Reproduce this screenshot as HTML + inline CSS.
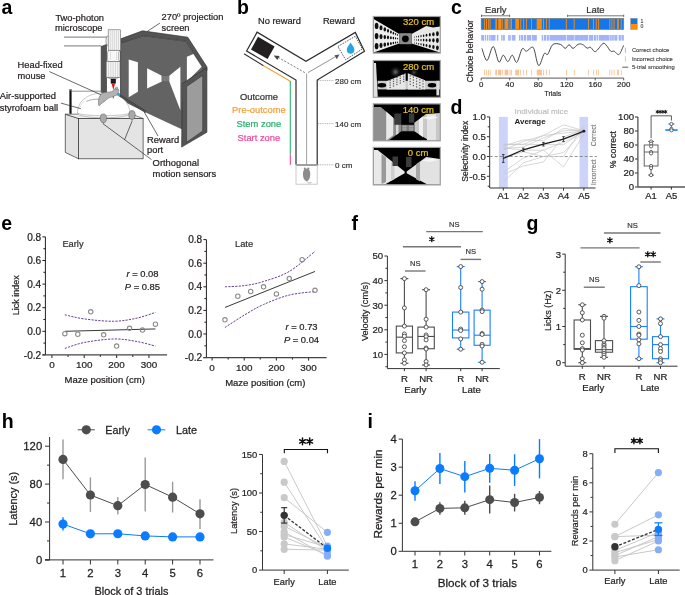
<!DOCTYPE html>
<html><head><meta charset="utf-8"><style>
html,body{margin:0;padding:0;background:#fff;}
body{width:685px;height:595px;overflow:hidden;}
svg{display:block;font-family:"Liberation Sans",sans-serif;transform:translateZ(0);will-change:transform;}
</style></head><body>
<svg width="685" height="595" viewBox="0 0 685 595">
<rect x="0" y="0" width="685" height="595" fill="#fff"/>
<text x="1.50" y="13.80" font-size="19.5" text-anchor="start" fill="#000" font-weight="bold"  >a</text>
<text x="237.00" y="13.80" font-size="19.5" text-anchor="start" fill="#000" font-weight="bold"  >b</text>
<text x="451.00" y="13.50" font-size="19.5" text-anchor="start" fill="#000" font-weight="bold"  >c</text>
<text x="450.50" y="113.50" font-size="19.5" text-anchor="start" fill="#000" font-weight="bold"  >d</text>
<text x="1.20" y="230.30" font-size="19.5" text-anchor="start" fill="#000" font-weight="bold"  >e</text>
<text x="351.50" y="230.00" font-size="19.5" text-anchor="start" fill="#000" font-weight="bold"  >f</text>
<text x="526.50" y="230.20" font-size="19.5" text-anchor="start" fill="#000" font-weight="bold"  >g</text>
<text x="1.70" y="428.00" font-size="19.5" text-anchor="start" fill="#000" font-weight="bold"  >h</text>
<text x="367.50" y="428.00" font-size="19.5" text-anchor="start" fill="#000" font-weight="bold"  >i</text>
<line x1="45.40" y1="236.90" x2="45.40" y2="354.90" stroke="#231f20" stroke-width="1" />
<line x1="42.40" y1="236.90" x2="45.40" y2="236.90" stroke="#231f20" stroke-width="1" />
<text x="41.20" y="240.54" font-size="10.1" text-anchor="end" fill="#231f20" font-weight="normal" stroke="#231f20" stroke-width="0.236" >0.8</text>
<line x1="42.40" y1="260.50" x2="45.40" y2="260.50" stroke="#231f20" stroke-width="1" />
<text x="41.20" y="264.14" font-size="10.1" text-anchor="end" fill="#231f20" font-weight="normal" stroke="#231f20" stroke-width="0.236" >0.6</text>
<line x1="42.40" y1="284.10" x2="45.40" y2="284.10" stroke="#231f20" stroke-width="1" />
<text x="41.20" y="287.74" font-size="10.1" text-anchor="end" fill="#231f20" font-weight="normal" stroke="#231f20" stroke-width="0.236" >0.4</text>
<line x1="42.40" y1="307.70" x2="45.40" y2="307.70" stroke="#231f20" stroke-width="1" />
<text x="41.20" y="311.34" font-size="10.1" text-anchor="end" fill="#231f20" font-weight="normal" stroke="#231f20" stroke-width="0.236" >0.2</text>
<line x1="42.40" y1="331.30" x2="45.40" y2="331.30" stroke="#231f20" stroke-width="1" />
<text x="41.20" y="334.94" font-size="10.1" text-anchor="end" fill="#231f20" font-weight="normal" stroke="#231f20" stroke-width="0.236" >0.0</text>
<line x1="42.40" y1="354.90" x2="45.40" y2="354.90" stroke="#231f20" stroke-width="1" />
<text x="41.20" y="358.54" font-size="10.1" text-anchor="end" fill="#231f20" font-weight="normal" stroke="#231f20" stroke-width="0.236" >-0.2</text>
<line x1="43.40" y1="248.70" x2="45.40" y2="248.70" stroke="#231f20" stroke-width="1" />
<line x1="43.40" y1="272.30" x2="45.40" y2="272.30" stroke="#231f20" stroke-width="1" />
<line x1="43.40" y1="295.90" x2="45.40" y2="295.90" stroke="#231f20" stroke-width="1" />
<line x1="43.40" y1="319.50" x2="45.40" y2="319.50" stroke="#231f20" stroke-width="1" />
<line x1="43.40" y1="343.10" x2="45.40" y2="343.10" stroke="#231f20" stroke-width="1" />
<line x1="42.40" y1="354.90" x2="167.12" y2="354.90" stroke="#444" stroke-width="1.2" />
<line x1="51.90" y1="354.90" x2="51.90" y2="357.90" stroke="#444" stroke-width="1.2" />
<text x="51.90" y="368.33" font-size="9.9" text-anchor="middle" fill="#231f20" font-weight="normal" stroke="#231f20" stroke-width="0.232" >0</text>
<line x1="84.25" y1="354.90" x2="84.25" y2="357.90" stroke="#444" stroke-width="1.2" />
<text x="84.25" y="368.33" font-size="9.9" text-anchor="middle" fill="#231f20" font-weight="normal" stroke="#231f20" stroke-width="0.232" >100</text>
<line x1="116.60" y1="354.90" x2="116.60" y2="357.90" stroke="#444" stroke-width="1.2" />
<text x="116.60" y="368.33" font-size="9.9" text-anchor="middle" fill="#231f20" font-weight="normal" stroke="#231f20" stroke-width="0.232" >200</text>
<line x1="148.95" y1="354.90" x2="148.95" y2="357.90" stroke="#444" stroke-width="1.2" />
<text x="148.95" y="368.33" font-size="9.9" text-anchor="middle" fill="#231f20" font-weight="normal" stroke="#231f20" stroke-width="0.232" >300</text>
<line x1="68.08" y1="354.90" x2="68.08" y2="356.90" stroke="#444" stroke-width="1.2" />
<line x1="100.42" y1="354.90" x2="100.42" y2="356.90" stroke="#444" stroke-width="1.2" />
<line x1="132.78" y1="354.90" x2="132.78" y2="356.90" stroke="#444" stroke-width="1.2" />
<path d="M64.84,314.78 C68.08,315.47 76.16,317.83 84.25,318.91 C92.34,319.99 104.74,321.37 113.37,321.27 C121.99,321.17 129.00,319.80 136.01,318.32 C143.02,316.85 152.19,313.40 155.42,312.42" fill="none" stroke="#673d9c" stroke-width="1.0" stroke-dasharray="2.2,1.2"/>
<path d="M64.84,348.41 C68.08,347.43 76.16,344.08 84.25,342.51 C92.34,340.94 104.74,339.17 113.37,338.97 C121.99,338.77 129.00,340.15 136.01,341.33 C143.02,342.51 152.19,345.26 155.42,346.05" fill="none" stroke="#673d9c" stroke-width="1.0" stroke-dasharray="2.2,1.2"/>
<line x1="64.84" y1="331.30" x2="155.42" y2="328.94" stroke="#222" stroke-width="0.9" />
<circle cx="64.84" cy="333.66" r="2.2" fill="none" stroke="#8c8c8c" stroke-width="1.1" />
<circle cx="77.78" cy="334.25" r="2.2" fill="none" stroke="#8c8c8c" stroke-width="1.1" />
<circle cx="90.72" cy="311.83" r="2.2" fill="none" stroke="#8c8c8c" stroke-width="1.1" />
<circle cx="103.66" cy="334.84" r="2.2" fill="none" stroke="#8c8c8c" stroke-width="1.1" />
<circle cx="116.60" cy="346.05" r="2.2" fill="none" stroke="#8c8c8c" stroke-width="1.1" />
<circle cx="129.54" cy="328.35" r="2.2" fill="none" stroke="#8c8c8c" stroke-width="1.1" />
<circle cx="142.48" cy="330.12" r="2.2" fill="none" stroke="#8c8c8c" stroke-width="1.1" />
<circle cx="155.42" cy="324.22" r="2.2" fill="none" stroke="#8c8c8c" stroke-width="1.1" />
<text x="62.40" y="247.40" font-size="9.3" text-anchor="start" fill="#333" font-weight="normal" stroke="#333" stroke-width="0.218" >Early</text>
<text x="158.50" y="276.80" font-size="9.4" text-anchor="end" fill="#231f20" font-weight="normal" stroke="#231f20" stroke-width="0.220" ><tspan font-style="italic">r</tspan> = 0.08</text>
<text x="160.00" y="289.60" font-size="9.4" text-anchor="end" fill="#231f20" font-weight="normal" stroke="#231f20" stroke-width="0.220" ><tspan font-style="italic">P</tspan> = 0.85</text>
<text x="104.70" y="383.20" font-size="9.5" text-anchor="middle" fill="#231f20" font-weight="normal" stroke="#231f20" stroke-width="0.222" >Maze position (cm)</text>
<text transform="translate(19.00,295.20) rotate(-90)" font-size="9.0" text-anchor="middle" fill="#231f20" font-weight="normal" stroke="#231f20" stroke-width="0.211">Lick index</text>
<line x1="206.40" y1="239.60" x2="206.40" y2="357.60" stroke="#231f20" stroke-width="1" />
<line x1="203.40" y1="239.60" x2="206.40" y2="239.60" stroke="#231f20" stroke-width="1" />
<text x="202.20" y="243.24" font-size="10.1" text-anchor="end" fill="#231f20" font-weight="normal" stroke="#231f20" stroke-width="0.236" >0.8</text>
<line x1="203.40" y1="263.20" x2="206.40" y2="263.20" stroke="#231f20" stroke-width="1" />
<text x="202.20" y="266.84" font-size="10.1" text-anchor="end" fill="#231f20" font-weight="normal" stroke="#231f20" stroke-width="0.236" >0.6</text>
<line x1="203.40" y1="286.80" x2="206.40" y2="286.80" stroke="#231f20" stroke-width="1" />
<text x="202.20" y="290.44" font-size="10.1" text-anchor="end" fill="#231f20" font-weight="normal" stroke="#231f20" stroke-width="0.236" >0.4</text>
<line x1="203.40" y1="310.40" x2="206.40" y2="310.40" stroke="#231f20" stroke-width="1" />
<text x="202.20" y="314.04" font-size="10.1" text-anchor="end" fill="#231f20" font-weight="normal" stroke="#231f20" stroke-width="0.236" >0.2</text>
<line x1="203.40" y1="334.00" x2="206.40" y2="334.00" stroke="#231f20" stroke-width="1" />
<text x="202.20" y="337.64" font-size="10.1" text-anchor="end" fill="#231f20" font-weight="normal" stroke="#231f20" stroke-width="0.236" >0.0</text>
<line x1="203.40" y1="357.60" x2="206.40" y2="357.60" stroke="#231f20" stroke-width="1" />
<text x="202.20" y="361.24" font-size="10.1" text-anchor="end" fill="#231f20" font-weight="normal" stroke="#231f20" stroke-width="0.236" >-0.2</text>
<line x1="204.40" y1="251.40" x2="206.40" y2="251.40" stroke="#231f20" stroke-width="1" />
<line x1="204.40" y1="275.00" x2="206.40" y2="275.00" stroke="#231f20" stroke-width="1" />
<line x1="204.40" y1="298.60" x2="206.40" y2="298.60" stroke="#231f20" stroke-width="1" />
<line x1="204.40" y1="322.20" x2="206.40" y2="322.20" stroke="#231f20" stroke-width="1" />
<line x1="204.40" y1="345.80" x2="206.40" y2="345.80" stroke="#231f20" stroke-width="1" />
<line x1="203.40" y1="357.60" x2="326.62" y2="357.60" stroke="#444" stroke-width="1.2" />
<line x1="212.10" y1="357.60" x2="212.10" y2="360.60" stroke="#444" stroke-width="1.2" />
<text x="212.10" y="371.03" font-size="9.9" text-anchor="middle" fill="#231f20" font-weight="normal" stroke="#231f20" stroke-width="0.232" >0</text>
<line x1="244.25" y1="357.60" x2="244.25" y2="360.60" stroke="#444" stroke-width="1.2" />
<text x="244.25" y="371.03" font-size="9.9" text-anchor="middle" fill="#231f20" font-weight="normal" stroke="#231f20" stroke-width="0.232" >100</text>
<line x1="276.40" y1="357.60" x2="276.40" y2="360.60" stroke="#444" stroke-width="1.2" />
<text x="276.40" y="371.03" font-size="9.9" text-anchor="middle" fill="#231f20" font-weight="normal" stroke="#231f20" stroke-width="0.232" >200</text>
<line x1="308.55" y1="357.60" x2="308.55" y2="360.60" stroke="#444" stroke-width="1.2" />
<text x="308.55" y="371.03" font-size="9.9" text-anchor="middle" fill="#231f20" font-weight="normal" stroke="#231f20" stroke-width="0.232" >300</text>
<line x1="228.17" y1="357.60" x2="228.17" y2="359.60" stroke="#444" stroke-width="1.2" />
<line x1="260.32" y1="357.60" x2="260.32" y2="359.60" stroke="#444" stroke-width="1.2" />
<line x1="292.48" y1="357.60" x2="292.48" y2="359.60" stroke="#444" stroke-width="1.2" />
<path d="M224.96,286.80 C228.17,286.60 237.82,286.50 244.25,285.62 C250.68,284.73 256.04,283.85 263.54,281.49 C271.04,279.13 280.69,276.47 289.26,271.46 C297.83,266.44 310.69,254.74 314.98,251.40" fill="none" stroke="#673d9c" stroke-width="1.0" stroke-dasharray="2.2,1.2"/>
<path d="M224.96,327.51 C228.17,325.44 237.82,318.95 244.25,315.12 C250.68,311.29 256.04,307.84 263.54,304.50 C271.04,301.16 280.69,297.22 289.26,295.06 C297.83,292.90 310.69,292.11 314.98,291.52" fill="none" stroke="#673d9c" stroke-width="1.0" stroke-dasharray="2.2,1.2"/>
<line x1="224.96" y1="307.45" x2="314.98" y2="271.46" stroke="#222" stroke-width="0.9" />
<circle cx="224.96" cy="319.84" r="2.2" fill="none" stroke="#8c8c8c" stroke-width="1.1" />
<circle cx="237.82" cy="296.24" r="2.2" fill="none" stroke="#8c8c8c" stroke-width="1.1" />
<circle cx="250.68" cy="291.52" r="2.2" fill="none" stroke="#8c8c8c" stroke-width="1.1" />
<circle cx="263.54" cy="286.80" r="2.2" fill="none" stroke="#8c8c8c" stroke-width="1.1" />
<circle cx="276.40" cy="293.88" r="2.2" fill="none" stroke="#8c8c8c" stroke-width="1.1" />
<circle cx="289.26" cy="278.54" r="2.2" fill="none" stroke="#8c8c8c" stroke-width="1.1" />
<circle cx="302.12" cy="259.66" r="2.2" fill="none" stroke="#8c8c8c" stroke-width="1.1" />
<circle cx="314.98" cy="290.34" r="2.2" fill="none" stroke="#8c8c8c" stroke-width="1.1" />
<text x="235.00" y="246.80" font-size="9.3" text-anchor="start" fill="#333" font-weight="normal" stroke="#333" stroke-width="0.218" >Late</text>
<text x="317.60" y="330.30" font-size="9.4" text-anchor="end" fill="#231f20" font-weight="normal" stroke="#231f20" stroke-width="0.220" ><tspan font-style="italic">r</tspan> = 0.73</text>
<text x="319.10" y="343.10" font-size="9.4" text-anchor="end" fill="#231f20" font-weight="normal" stroke="#231f20" stroke-width="0.220" ><tspan font-style="italic">P</tspan> = 0.04</text>
<text x="265.30" y="385.60" font-size="9.5" text-anchor="middle" fill="#231f20" font-weight="normal" stroke="#231f20" stroke-width="0.222" >Maze position (cm)</text>
<line x1="387.40" y1="256.00" x2="387.40" y2="368.60" stroke="#333" stroke-width="1" />
<line x1="384.40" y1="256.00" x2="387.40" y2="256.00" stroke="#333" stroke-width="1" />
<text x="383.20" y="259.46" font-size="9.6" text-anchor="end" fill="#231f20" font-weight="normal" stroke="#231f20" stroke-width="0.225" >50</text>
<line x1="384.40" y1="280.60" x2="387.40" y2="280.60" stroke="#333" stroke-width="1" />
<text x="383.20" y="284.06" font-size="9.6" text-anchor="end" fill="#231f20" font-weight="normal" stroke="#231f20" stroke-width="0.225" >40</text>
<line x1="384.40" y1="305.20" x2="387.40" y2="305.20" stroke="#333" stroke-width="1" />
<text x="383.20" y="308.66" font-size="9.6" text-anchor="end" fill="#231f20" font-weight="normal" stroke="#231f20" stroke-width="0.225" >30</text>
<line x1="384.40" y1="329.80" x2="387.40" y2="329.80" stroke="#333" stroke-width="1" />
<text x="383.20" y="333.26" font-size="9.6" text-anchor="end" fill="#231f20" font-weight="normal" stroke="#231f20" stroke-width="0.225" >20</text>
<line x1="384.40" y1="354.40" x2="387.40" y2="354.40" stroke="#333" stroke-width="1" />
<text x="383.20" y="357.86" font-size="9.6" text-anchor="end" fill="#231f20" font-weight="normal" stroke="#231f20" stroke-width="0.225" >10</text>
<line x1="385.40" y1="268.30" x2="387.40" y2="268.30" stroke="#333" stroke-width="1" />
<line x1="385.40" y1="292.90" x2="387.40" y2="292.90" stroke="#333" stroke-width="1" />
<line x1="385.40" y1="317.50" x2="387.40" y2="317.50" stroke="#333" stroke-width="1" />
<line x1="385.40" y1="342.10" x2="387.40" y2="342.10" stroke="#333" stroke-width="1" />
<line x1="385.40" y1="366.70" x2="387.40" y2="366.70" stroke="#333" stroke-width="1" />
<line x1="387.40" y1="368.60" x2="499.80" y2="368.60" stroke="#333" stroke-width="1" />
<line x1="404.40" y1="368.60" x2="404.40" y2="371.20" stroke="#333" stroke-width="1" />
<text x="404.40" y="381.60" font-size="9.6" text-anchor="middle" fill="#231f20" font-weight="normal" stroke="#231f20" stroke-width="0.225" >R</text>
<line x1="426.10" y1="368.60" x2="426.10" y2="371.20" stroke="#333" stroke-width="1" />
<text x="426.10" y="381.60" font-size="9.6" text-anchor="middle" fill="#231f20" font-weight="normal" stroke="#231f20" stroke-width="0.225" >NR</text>
<line x1="460.70" y1="368.60" x2="460.70" y2="371.20" stroke="#333" stroke-width="1" />
<text x="460.70" y="381.60" font-size="9.6" text-anchor="middle" fill="#231f20" font-weight="normal" stroke="#231f20" stroke-width="0.225" >R</text>
<line x1="482.10" y1="368.60" x2="482.10" y2="371.20" stroke="#333" stroke-width="1" />
<text x="482.10" y="381.60" font-size="9.6" text-anchor="middle" fill="#231f20" font-weight="normal" stroke="#231f20" stroke-width="0.225" >NR</text>
<text x="415.30" y="392.60" font-size="9.6" text-anchor="middle" fill="#231f20" font-weight="normal" stroke="#231f20" stroke-width="0.225" >Early</text>
<text x="471.40" y="392.60" font-size="9.6" text-anchor="middle" fill="#231f20" font-weight="normal" stroke="#231f20" stroke-width="0.225" >Late</text>
<text transform="translate(368.20,311.50) rotate(-90)" font-size="9.1" text-anchor="middle" fill="#231f20" font-weight="normal" stroke="#231f20" stroke-width="0.213">Velocity (cm/s)</text>
<line x1="404.40" y1="278.63" x2="404.40" y2="326.11" stroke="#4d4d4d" stroke-width="1.1" />
<line x1="404.40" y1="352.92" x2="404.40" y2="363.26" stroke="#4d4d4d" stroke-width="1.1" />
<line x1="400.40" y1="278.63" x2="408.40" y2="278.63" stroke="#4d4d4d" stroke-width="1.1" />
<line x1="400.40" y1="363.26" x2="408.40" y2="363.26" stroke="#4d4d4d" stroke-width="1.1" />
<rect x="396.30" y="326.11" width="16.20" height="26.81" fill="none" stroke="#4d4d4d" stroke-width="1.1" />
<line x1="396.30" y1="337.18" x2="412.50" y2="337.18" stroke="#4d4d4d" stroke-width="1.1" />
<circle cx="404.40" cy="278.63" r="2.0" fill="#fff" stroke="#333" stroke-width="0.8" />
<circle cx="404.40" cy="307.91" r="2.0" fill="#fff" stroke="#333" stroke-width="0.8" />
<circle cx="404.40" cy="326.11" r="2.0" fill="#fff" stroke="#333" stroke-width="0.8" />
<circle cx="404.40" cy="333.98" r="2.0" fill="#fff" stroke="#333" stroke-width="0.8" />
<circle cx="404.40" cy="336.20" r="2.0" fill="#fff" stroke="#333" stroke-width="0.8" />
<circle cx="404.40" cy="340.62" r="2.0" fill="#fff" stroke="#333" stroke-width="0.8" />
<circle cx="404.40" cy="346.77" r="2.0" fill="#fff" stroke="#333" stroke-width="0.8" />
<circle cx="404.40" cy="352.92" r="2.0" fill="#fff" stroke="#333" stroke-width="0.8" />
<circle cx="404.40" cy="359.81" r="2.0" fill="#fff" stroke="#333" stroke-width="0.8" />
<circle cx="404.40" cy="363.26" r="2.0" fill="#fff" stroke="#333" stroke-width="0.8" />
<line x1="426.10" y1="289.70" x2="426.10" y2="327.09" stroke="#4d4d4d" stroke-width="1.1" />
<line x1="426.10" y1="348.74" x2="426.10" y2="364.98" stroke="#4d4d4d" stroke-width="1.1" />
<line x1="422.10" y1="289.70" x2="430.10" y2="289.70" stroke="#4d4d4d" stroke-width="1.1" />
<line x1="422.10" y1="364.98" x2="430.10" y2="364.98" stroke="#4d4d4d" stroke-width="1.1" />
<rect x="417.90" y="327.09" width="16.40" height="21.65" fill="none" stroke="#4d4d4d" stroke-width="1.1" />
<line x1="417.90" y1="336.44" x2="434.30" y2="336.44" stroke="#4d4d4d" stroke-width="1.1" />
<circle cx="426.10" cy="289.70" r="2.0" fill="#fff" stroke="#333" stroke-width="0.8" />
<circle cx="426.10" cy="319.22" r="2.0" fill="#fff" stroke="#333" stroke-width="0.8" />
<circle cx="426.10" cy="327.09" r="2.0" fill="#fff" stroke="#333" stroke-width="0.8" />
<circle cx="426.10" cy="334.97" r="2.0" fill="#fff" stroke="#333" stroke-width="0.8" />
<circle cx="426.10" cy="336.69" r="2.0" fill="#fff" stroke="#333" stroke-width="0.8" />
<circle cx="426.10" cy="339.89" r="2.0" fill="#fff" stroke="#333" stroke-width="0.8" />
<circle cx="426.10" cy="348.00" r="2.0" fill="#fff" stroke="#333" stroke-width="0.8" />
<circle cx="426.10" cy="348.99" r="2.0" fill="#fff" stroke="#333" stroke-width="0.8" />
<circle cx="426.10" cy="361.53" r="2.0" fill="#fff" stroke="#333" stroke-width="0.8" />
<circle cx="426.10" cy="364.98" r="2.0" fill="#fff" stroke="#333" stroke-width="0.8" />
<line x1="460.70" y1="266.58" x2="460.70" y2="312.09" stroke="#1a7fff" stroke-width="1.1" />
<line x1="460.70" y1="337.92" x2="460.70" y2="349.23" stroke="#1a7fff" stroke-width="1.1" />
<line x1="456.70" y1="266.58" x2="464.70" y2="266.58" stroke="#1a7fff" stroke-width="1.1" />
<line x1="456.70" y1="349.23" x2="464.70" y2="349.23" stroke="#1a7fff" stroke-width="1.1" />
<rect x="452.50" y="312.09" width="16.40" height="25.83" fill="none" stroke="#1a7fff" stroke-width="1.1" />
<line x1="452.50" y1="330.05" x2="468.90" y2="330.05" stroke="#1a7fff" stroke-width="1.1" />
<circle cx="460.70" cy="266.58" r="2.0" fill="#fff" stroke="#333" stroke-width="0.8" />
<circle cx="460.70" cy="287.49" r="2.0" fill="#fff" stroke="#333" stroke-width="0.8" />
<circle cx="460.70" cy="312.09" r="2.0" fill="#fff" stroke="#333" stroke-width="0.8" />
<circle cx="460.70" cy="329.06" r="2.0" fill="#fff" stroke="#333" stroke-width="0.8" />
<circle cx="460.70" cy="330.54" r="2.0" fill="#fff" stroke="#333" stroke-width="0.8" />
<circle cx="460.70" cy="338.90" r="2.0" fill="#fff" stroke="#333" stroke-width="0.8" />
<circle cx="460.70" cy="349.23" r="2.0" fill="#fff" stroke="#333" stroke-width="0.8" />
<line x1="482.10" y1="281.58" x2="482.10" y2="310.12" stroke="#1a7fff" stroke-width="1.1" />
<line x1="482.10" y1="345.30" x2="482.10" y2="362.27" stroke="#1a7fff" stroke-width="1.1" />
<line x1="478.10" y1="281.58" x2="486.10" y2="281.58" stroke="#1a7fff" stroke-width="1.1" />
<line x1="478.10" y1="362.27" x2="486.10" y2="362.27" stroke="#1a7fff" stroke-width="1.1" />
<rect x="474.10" y="310.12" width="16.00" height="35.18" fill="none" stroke="#1a7fff" stroke-width="1.1" />
<line x1="474.10" y1="335.21" x2="490.10" y2="335.21" stroke="#1a7fff" stroke-width="1.1" />
<circle cx="482.10" cy="281.58" r="2.0" fill="#fff" stroke="#333" stroke-width="0.8" />
<circle cx="482.10" cy="289.21" r="2.0" fill="#fff" stroke="#333" stroke-width="0.8" />
<circle cx="482.10" cy="310.12" r="2.0" fill="#fff" stroke="#333" stroke-width="0.8" />
<circle cx="482.10" cy="311.60" r="2.0" fill="#fff" stroke="#333" stroke-width="0.8" />
<circle cx="482.10" cy="333.49" r="2.0" fill="#fff" stroke="#333" stroke-width="0.8" />
<circle cx="482.10" cy="334.47" r="2.0" fill="#fff" stroke="#333" stroke-width="0.8" />
<circle cx="482.10" cy="344.31" r="2.0" fill="#fff" stroke="#333" stroke-width="0.8" />
<circle cx="482.10" cy="346.04" r="2.0" fill="#fff" stroke="#333" stroke-width="0.8" />
<circle cx="482.10" cy="362.27" r="2.0" fill="#fff" stroke="#333" stroke-width="0.8" />
<line x1="426.20" y1="231.60" x2="482.80" y2="231.60" stroke="#777" stroke-width="1.4" />
<text x="454.30" y="226.80" font-size="7.6" text-anchor="middle" fill="#333" font-weight="normal" stroke="#333" stroke-width="0.178" >NS</text>
<line x1="402.90" y1="246.70" x2="461.00" y2="246.70" stroke="#777" stroke-width="1.4" />
<path d="M431.80,236.70L431.80,241.70M433.97,237.95L429.63,240.45M433.97,240.45L429.63,237.95" fill="none" stroke="#111" stroke-width="1.3" stroke-linecap="round"/>
<circle cx="431.80" cy="239.20" r="0.9750000000000001" fill="#111" stroke="none" stroke-width="1" />
<line x1="460.60" y1="259.40" x2="481.10" y2="259.40" stroke="#777" stroke-width="1.4" />
<text x="470.80" y="254.30" font-size="7.6" text-anchor="middle" fill="#333" font-weight="normal" stroke="#333" stroke-width="0.178" >NS</text>
<line x1="405.00" y1="271.00" x2="425.60" y2="271.00" stroke="#777" stroke-width="1.4" />
<text x="415.30" y="265.80" font-size="7.6" text-anchor="middle" fill="#333" font-weight="normal" stroke="#333" stroke-width="0.178" >NS</text>
<line x1="565.20" y1="254.10" x2="565.20" y2="366.20" stroke="#333" stroke-width="1" />
<line x1="562.20" y1="254.10" x2="565.20" y2="254.10" stroke="#333" stroke-width="1" />
<text x="561.00" y="257.56" font-size="9.6" text-anchor="end" fill="#231f20" font-weight="normal" stroke="#231f20" stroke-width="0.225" >3</text>
<line x1="562.20" y1="290.30" x2="565.20" y2="290.30" stroke="#333" stroke-width="1" />
<text x="561.00" y="293.76" font-size="9.6" text-anchor="end" fill="#231f20" font-weight="normal" stroke="#231f20" stroke-width="0.225" >2</text>
<line x1="562.20" y1="326.50" x2="565.20" y2="326.50" stroke="#333" stroke-width="1" />
<text x="561.00" y="329.96" font-size="9.6" text-anchor="end" fill="#231f20" font-weight="normal" stroke="#231f20" stroke-width="0.225" >1</text>
<line x1="562.20" y1="362.70" x2="565.20" y2="362.70" stroke="#333" stroke-width="1" />
<text x="561.00" y="366.16" font-size="9.6" text-anchor="end" fill="#231f20" font-weight="normal" stroke="#231f20" stroke-width="0.225" >0</text>
<line x1="563.20" y1="272.20" x2="565.20" y2="272.20" stroke="#333" stroke-width="1" />
<line x1="563.20" y1="308.40" x2="565.20" y2="308.40" stroke="#333" stroke-width="1" />
<line x1="563.20" y1="344.60" x2="565.20" y2="344.60" stroke="#333" stroke-width="1" />
<line x1="565.20" y1="366.20" x2="677.50" y2="366.20" stroke="#333" stroke-width="1" />
<line x1="582.30" y1="366.20" x2="582.30" y2="368.80" stroke="#333" stroke-width="1" />
<text x="582.30" y="379.60" font-size="9.6" text-anchor="middle" fill="#231f20" font-weight="normal" stroke="#231f20" stroke-width="0.225" >R</text>
<line x1="604.00" y1="366.20" x2="604.00" y2="368.80" stroke="#333" stroke-width="1" />
<text x="604.00" y="379.60" font-size="9.6" text-anchor="middle" fill="#231f20" font-weight="normal" stroke="#231f20" stroke-width="0.225" >NR</text>
<line x1="638.90" y1="366.20" x2="638.90" y2="368.80" stroke="#333" stroke-width="1" />
<text x="638.90" y="379.60" font-size="9.6" text-anchor="middle" fill="#231f20" font-weight="normal" stroke="#231f20" stroke-width="0.225" >R</text>
<line x1="660.50" y1="366.20" x2="660.50" y2="368.80" stroke="#333" stroke-width="1" />
<text x="660.50" y="379.60" font-size="9.6" text-anchor="middle" fill="#231f20" font-weight="normal" stroke="#231f20" stroke-width="0.225" >NR</text>
<text x="593.30" y="391.00" font-size="9.6" text-anchor="middle" fill="#231f20" font-weight="normal" stroke="#231f20" stroke-width="0.225" >Early</text>
<text x="649.90" y="391.00" font-size="9.6" text-anchor="middle" fill="#231f20" font-weight="normal" stroke="#231f20" stroke-width="0.225" >Late</text>
<text transform="translate(550.60,310.80) rotate(-90)" font-size="9.1" text-anchor="middle" fill="#231f20" font-weight="normal" stroke="#231f20" stroke-width="0.213">Licks (Hz)</text>
<line x1="582.30" y1="304.78" x2="582.30" y2="319.98" stroke="#4d4d4d" stroke-width="1.1" />
<line x1="582.30" y1="349.31" x2="582.30" y2="362.70" stroke="#4d4d4d" stroke-width="1.1" />
<line x1="578.30" y1="304.78" x2="586.30" y2="304.78" stroke="#4d4d4d" stroke-width="1.1" />
<line x1="578.30" y1="362.70" x2="586.30" y2="362.70" stroke="#4d4d4d" stroke-width="1.1" />
<rect x="574.10" y="319.98" width="16.40" height="29.32" fill="none" stroke="#4d4d4d" stroke-width="1.1" />
<line x1="574.10" y1="348.58" x2="590.50" y2="348.58" stroke="#4d4d4d" stroke-width="1.1" />
<circle cx="582.30" cy="304.78" r="2.0" fill="#fff" stroke="#333" stroke-width="0.8" />
<circle cx="582.30" cy="312.74" r="2.0" fill="#fff" stroke="#333" stroke-width="0.8" />
<circle cx="582.30" cy="319.98" r="2.0" fill="#fff" stroke="#333" stroke-width="0.8" />
<circle cx="582.30" cy="335.19" r="2.0" fill="#fff" stroke="#333" stroke-width="0.8" />
<circle cx="582.30" cy="342.79" r="2.0" fill="#fff" stroke="#333" stroke-width="0.8" />
<circle cx="582.30" cy="348.58" r="2.0" fill="#fff" stroke="#333" stroke-width="0.8" />
<circle cx="582.30" cy="350.03" r="2.0" fill="#fff" stroke="#333" stroke-width="0.8" />
<circle cx="582.30" cy="358.72" r="2.0" fill="#fff" stroke="#333" stroke-width="0.8" />
<circle cx="582.30" cy="362.70" r="2.0" fill="#fff" stroke="#333" stroke-width="0.8" />
<line x1="604.00" y1="316.36" x2="604.00" y2="340.62" stroke="#4d4d4d" stroke-width="1.1" />
<line x1="604.00" y1="352.20" x2="604.00" y2="357.27" stroke="#4d4d4d" stroke-width="1.1" />
<line x1="600.00" y1="316.36" x2="608.00" y2="316.36" stroke="#4d4d4d" stroke-width="1.1" />
<line x1="600.00" y1="357.27" x2="608.00" y2="357.27" stroke="#4d4d4d" stroke-width="1.1" />
<rect x="595.40" y="340.62" width="17.20" height="11.58" fill="none" stroke="#4d4d4d" stroke-width="1.1" />
<line x1="595.40" y1="349.67" x2="612.60" y2="349.67" stroke="#4d4d4d" stroke-width="1.1" />
<circle cx="604.00" cy="316.36" r="2.0" fill="#fff" stroke="#333" stroke-width="0.8" />
<circle cx="604.00" cy="318.17" r="2.0" fill="#fff" stroke="#333" stroke-width="0.8" />
<circle cx="604.00" cy="340.62" r="2.0" fill="#fff" stroke="#333" stroke-width="0.8" />
<circle cx="604.00" cy="343.88" r="2.0" fill="#fff" stroke="#333" stroke-width="0.8" />
<circle cx="604.00" cy="345.32" r="2.0" fill="#fff" stroke="#333" stroke-width="0.8" />
<circle cx="604.00" cy="347.13" r="2.0" fill="#fff" stroke="#333" stroke-width="0.8" />
<circle cx="604.00" cy="348.58" r="2.0" fill="#fff" stroke="#333" stroke-width="0.8" />
<circle cx="604.00" cy="351.12" r="2.0" fill="#fff" stroke="#333" stroke-width="0.8" />
<circle cx="604.00" cy="353.29" r="2.0" fill="#fff" stroke="#333" stroke-width="0.8" />
<circle cx="604.00" cy="355.10" r="2.0" fill="#fff" stroke="#333" stroke-width="0.8" />
<circle cx="604.00" cy="357.27" r="2.0" fill="#fff" stroke="#333" stroke-width="0.8" />
<line x1="638.90" y1="266.77" x2="638.90" y2="286.68" stroke="#1a7fff" stroke-width="1.1" />
<line x1="638.90" y1="339.17" x2="638.90" y2="358.72" stroke="#1a7fff" stroke-width="1.1" />
<line x1="634.90" y1="266.77" x2="642.90" y2="266.77" stroke="#1a7fff" stroke-width="1.1" />
<line x1="634.90" y1="358.72" x2="642.90" y2="358.72" stroke="#1a7fff" stroke-width="1.1" />
<rect x="630.60" y="286.68" width="16.60" height="52.49" fill="none" stroke="#1a7fff" stroke-width="1.1" />
<line x1="630.60" y1="326.50" x2="647.20" y2="326.50" stroke="#1a7fff" stroke-width="1.1" />
<circle cx="638.90" cy="266.77" r="2.0" fill="#fff" stroke="#333" stroke-width="0.8" />
<circle cx="638.90" cy="285.59" r="2.0" fill="#fff" stroke="#333" stroke-width="0.8" />
<circle cx="638.90" cy="312.02" r="2.0" fill="#fff" stroke="#333" stroke-width="0.8" />
<circle cx="638.90" cy="320.35" r="2.0" fill="#fff" stroke="#333" stroke-width="0.8" />
<circle cx="638.90" cy="326.50" r="2.0" fill="#fff" stroke="#333" stroke-width="0.8" />
<circle cx="638.90" cy="334.10" r="2.0" fill="#fff" stroke="#333" stroke-width="0.8" />
<circle cx="638.90" cy="335.19" r="2.0" fill="#fff" stroke="#333" stroke-width="0.8" />
<circle cx="638.90" cy="339.89" r="2.0" fill="#fff" stroke="#333" stroke-width="0.8" />
<circle cx="638.90" cy="343.88" r="2.0" fill="#fff" stroke="#333" stroke-width="0.8" />
<circle cx="638.90" cy="358.72" r="2.0" fill="#fff" stroke="#333" stroke-width="0.8" />
<line x1="660.50" y1="318.90" x2="660.50" y2="336.64" stroke="#1a7fff" stroke-width="1.1" />
<line x1="660.50" y1="358.72" x2="660.50" y2="362.70" stroke="#1a7fff" stroke-width="1.1" />
<line x1="656.50" y1="318.90" x2="664.50" y2="318.90" stroke="#1a7fff" stroke-width="1.1" />
<line x1="656.50" y1="362.70" x2="664.50" y2="362.70" stroke="#1a7fff" stroke-width="1.1" />
<rect x="652.50" y="336.64" width="16.00" height="22.08" fill="none" stroke="#1a7fff" stroke-width="1.1" />
<line x1="652.50" y1="344.60" x2="668.50" y2="344.60" stroke="#1a7fff" stroke-width="1.1" />
<circle cx="660.50" cy="318.90" r="2.0" fill="#fff" stroke="#333" stroke-width="0.8" />
<circle cx="660.50" cy="323.60" r="2.0" fill="#fff" stroke="#333" stroke-width="0.8" />
<circle cx="660.50" cy="336.64" r="2.0" fill="#fff" stroke="#333" stroke-width="0.8" />
<circle cx="660.50" cy="344.60" r="2.0" fill="#fff" stroke="#333" stroke-width="0.8" />
<circle cx="660.50" cy="348.58" r="2.0" fill="#fff" stroke="#333" stroke-width="0.8" />
<circle cx="660.50" cy="351.48" r="2.0" fill="#fff" stroke="#333" stroke-width="0.8" />
<circle cx="660.50" cy="358.72" r="2.0" fill="#fff" stroke="#333" stroke-width="0.8" />
<circle cx="660.50" cy="360.53" r="2.0" fill="#fff" stroke="#333" stroke-width="0.8" />
<circle cx="660.50" cy="362.70" r="2.0" fill="#fff" stroke="#333" stroke-width="0.8" />
<line x1="603.90" y1="233.00" x2="660.50" y2="233.00" stroke="#777" stroke-width="1.4" />
<text x="632.60" y="227.70" font-size="7.6" text-anchor="middle" fill="#333" font-weight="normal" stroke="#333" stroke-width="0.178" >NS</text>
<line x1="580.50" y1="247.90" x2="639.60" y2="247.90" stroke="#777" stroke-width="1.4" />
<path d="M609.90,237.70L609.90,242.90M612.15,239.00L607.65,241.60M612.15,241.60L607.65,239.00" fill="none" stroke="#111" stroke-width="1.3" stroke-linecap="round"/>
<circle cx="609.90" cy="240.30" r="0.9750000000000001" fill="#111" stroke="none" stroke-width="1" />
<line x1="640.30" y1="262.00" x2="660.80" y2="262.00" stroke="#777" stroke-width="1.4" />
<path d="M647.75,251.75L647.75,256.85M649.96,253.03L645.54,255.58M649.96,255.58L645.54,253.03" fill="none" stroke="#111" stroke-width="1.3" stroke-linecap="round"/>
<circle cx="647.75" cy="254.30" r="0.9750000000000001" fill="#111" stroke="none" stroke-width="1" />
<path d="M653.25,251.75L653.25,256.85M655.46,253.03L651.04,255.58M655.46,255.58L651.04,253.03" fill="none" stroke="#111" stroke-width="1.3" stroke-linecap="round"/>
<circle cx="653.25" cy="254.30" r="0.9750000000000001" fill="#111" stroke="none" stroke-width="1" />
<line x1="583.80" y1="287.20" x2="604.80" y2="287.20" stroke="#777" stroke-width="1.4" />
<text x="594.40" y="282.00" font-size="7.6" text-anchor="middle" fill="#333" font-weight="normal" stroke="#333" stroke-width="0.178" >NS</text>
<line x1="49.60" y1="437.00" x2="49.60" y2="559.90" stroke="#333" stroke-width="1" />
<line x1="45.00" y1="559.90" x2="49.60" y2="559.90" stroke="#333" stroke-width="1" />
<text x="42.20" y="563.97" font-size="11.3" text-anchor="end" fill="#231f20" font-weight="normal" stroke="#231f20" stroke-width="0.264" >0</text>
<line x1="45.00" y1="522.00" x2="49.60" y2="522.00" stroke="#333" stroke-width="1" />
<text x="42.20" y="526.07" font-size="11.3" text-anchor="end" fill="#231f20" font-weight="normal" stroke="#231f20" stroke-width="0.264" >40</text>
<line x1="45.00" y1="484.10" x2="49.60" y2="484.10" stroke="#333" stroke-width="1" />
<text x="42.20" y="488.17" font-size="11.3" text-anchor="end" fill="#231f20" font-weight="normal" stroke="#231f20" stroke-width="0.264" >80</text>
<line x1="45.00" y1="446.20" x2="49.60" y2="446.20" stroke="#333" stroke-width="1" />
<text x="42.20" y="450.27" font-size="11.3" text-anchor="end" fill="#231f20" font-weight="normal" stroke="#231f20" stroke-width="0.264" >120</text>
<line x1="47.00" y1="540.95" x2="49.60" y2="540.95" stroke="#333" stroke-width="1" />
<line x1="47.00" y1="503.05" x2="49.60" y2="503.05" stroke="#333" stroke-width="1" />
<line x1="47.00" y1="465.15" x2="49.60" y2="465.15" stroke="#333" stroke-width="1" />
<line x1="45.00" y1="559.90" x2="213.50" y2="559.90" stroke="#333" stroke-width="1" />
<line x1="63.00" y1="559.90" x2="63.00" y2="564.50" stroke="#333" stroke-width="1" />
<text x="63.00" y="577.44" font-size="11.3" text-anchor="middle" fill="#231f20" font-weight="normal" stroke="#231f20" stroke-width="0.264" >1</text>
<line x1="90.40" y1="559.90" x2="90.40" y2="564.50" stroke="#333" stroke-width="1" />
<text x="90.40" y="577.44" font-size="11.3" text-anchor="middle" fill="#231f20" font-weight="normal" stroke="#231f20" stroke-width="0.264" >2</text>
<line x1="117.80" y1="559.90" x2="117.80" y2="564.50" stroke="#333" stroke-width="1" />
<text x="117.80" y="577.44" font-size="11.3" text-anchor="middle" fill="#231f20" font-weight="normal" stroke="#231f20" stroke-width="0.264" >3</text>
<line x1="145.20" y1="559.90" x2="145.20" y2="564.50" stroke="#333" stroke-width="1" />
<text x="145.20" y="577.44" font-size="11.3" text-anchor="middle" fill="#231f20" font-weight="normal" stroke="#231f20" stroke-width="0.264" >4</text>
<line x1="172.60" y1="559.90" x2="172.60" y2="564.50" stroke="#333" stroke-width="1" />
<text x="172.60" y="577.44" font-size="11.3" text-anchor="middle" fill="#231f20" font-weight="normal" stroke="#231f20" stroke-width="0.264" >5</text>
<line x1="200.00" y1="559.90" x2="200.00" y2="564.50" stroke="#333" stroke-width="1" />
<text x="200.00" y="577.44" font-size="11.3" text-anchor="middle" fill="#231f20" font-weight="normal" stroke="#231f20" stroke-width="0.264" >6</text>
<line x1="45.00" y1="559.90" x2="49.60" y2="559.90" stroke="#333" stroke-width="1" />
<line x1="63.00" y1="439.57" x2="63.00" y2="479.36" stroke="#9a9a9a" stroke-width="1.4" />
<line x1="90.40" y1="477.47" x2="90.40" y2="512.05" stroke="#9a9a9a" stroke-width="1.4" />
<line x1="117.80" y1="496.89" x2="117.80" y2="514.42" stroke="#9a9a9a" stroke-width="1.4" />
<line x1="145.20" y1="457.57" x2="145.20" y2="511.58" stroke="#9a9a9a" stroke-width="1.4" />
<line x1="172.60" y1="481.73" x2="172.60" y2="512.52" stroke="#9a9a9a" stroke-width="1.4" />
<line x1="200.00" y1="499.26" x2="200.00" y2="529.11" stroke="#9a9a9a" stroke-width="1.4" />
<polyline points="63.00,459.46 90.40,495.00 117.80,505.70 145.20,484.48 172.60,497.18 200.00,513.85" fill="none" stroke="#4d4d4d" stroke-width="1.0" />
<circle cx="63.00" cy="459.46" r="4.6" fill="#4d4d4d" stroke="none" stroke-width="1" />
<circle cx="90.40" cy="495.00" r="4.6" fill="#4d4d4d" stroke="none" stroke-width="1" />
<circle cx="117.80" cy="505.70" r="4.6" fill="#4d4d4d" stroke="none" stroke-width="1" />
<circle cx="145.20" cy="484.48" r="4.6" fill="#4d4d4d" stroke="none" stroke-width="1" />
<circle cx="172.60" cy="497.18" r="4.6" fill="#4d4d4d" stroke="none" stroke-width="1" />
<circle cx="200.00" cy="513.85" r="4.6" fill="#4d4d4d" stroke="none" stroke-width="1" />
<line x1="63.00" y1="517.26" x2="63.00" y2="530.53" stroke="#0a7cff" stroke-width="1.4" />
<line x1="90.40" y1="532.42" x2="90.40" y2="535.26" stroke="#0a7cff" stroke-width="1.4" />
<line x1="117.80" y1="532.42" x2="117.80" y2="535.26" stroke="#0a7cff" stroke-width="1.4" />
<line x1="145.20" y1="534.32" x2="145.20" y2="537.16" stroke="#0a7cff" stroke-width="1.4" />
<line x1="172.60" y1="535.26" x2="172.60" y2="538.11" stroke="#0a7cff" stroke-width="1.4" />
<line x1="200.00" y1="535.26" x2="200.00" y2="538.11" stroke="#0a7cff" stroke-width="1.4" />
<polyline points="63.00,524.08 90.40,533.84 117.80,533.75 145.20,535.93 172.60,536.88 200.00,536.88" fill="none" stroke="#0a7cff" stroke-width="1.0" />
<circle cx="63.00" cy="524.08" r="4.6" fill="#0a7cff" stroke="none" stroke-width="1" />
<circle cx="90.40" cy="533.84" r="4.6" fill="#0a7cff" stroke="none" stroke-width="1" />
<circle cx="117.80" cy="533.75" r="4.6" fill="#0a7cff" stroke="none" stroke-width="1" />
<circle cx="145.20" cy="535.93" r="4.6" fill="#0a7cff" stroke="none" stroke-width="1" />
<circle cx="172.60" cy="536.88" r="4.6" fill="#0a7cff" stroke="none" stroke-width="1" />
<circle cx="200.00" cy="536.88" r="4.6" fill="#0a7cff" stroke="none" stroke-width="1" />
<line x1="77.70" y1="429.80" x2="94.80" y2="429.80" stroke="#4d4d4d" stroke-width="1" />
<circle cx="86.30" cy="429.80" r="4.6" fill="#4d4d4d" stroke="none" stroke-width="1" />
<text x="105.30" y="433.90" font-size="10.8" text-anchor="start" fill="#231f20" font-weight="normal" stroke="#231f20" stroke-width="0.253" >Early</text>
<line x1="147.60" y1="429.80" x2="165.30" y2="429.80" stroke="#0a7cff" stroke-width="1" />
<circle cx="156.50" cy="429.80" r="4.6" fill="#0a7cff" stroke="none" stroke-width="1" />
<text x="175.90" y="433.90" font-size="10.8" text-anchor="start" fill="#231f20" font-weight="normal" stroke="#231f20" stroke-width="0.253" >Late</text>
<text x="131.50" y="594.60" font-size="10.9" text-anchor="middle" fill="#231f20" font-weight="normal" stroke="#231f20" stroke-width="0.255" >Block of 3 trials</text>
<text transform="translate(17.40,498.80) rotate(-90)" font-size="10.9" text-anchor="middle" fill="#231f20" font-weight="normal" stroke="#231f20" stroke-width="0.255">Latency (s)</text>
<line x1="262.50" y1="454.45" x2="262.50" y2="570.10" stroke="#333" stroke-width="1" />
<line x1="259.10" y1="570.10" x2="262.50" y2="570.10" stroke="#333" stroke-width="1" />
<text x="257.30" y="573.48" font-size="9.4" text-anchor="end" fill="#231f20" font-weight="normal" stroke="#231f20" stroke-width="0.220" >0</text>
<line x1="259.10" y1="531.55" x2="262.50" y2="531.55" stroke="#333" stroke-width="1" />
<text x="257.30" y="534.93" font-size="9.4" text-anchor="end" fill="#231f20" font-weight="normal" stroke="#231f20" stroke-width="0.220" >50</text>
<line x1="259.10" y1="493.00" x2="262.50" y2="493.00" stroke="#333" stroke-width="1" />
<text x="257.30" y="496.38" font-size="9.4" text-anchor="end" fill="#231f20" font-weight="normal" stroke="#231f20" stroke-width="0.220" >100</text>
<line x1="259.10" y1="454.45" x2="262.50" y2="454.45" stroke="#333" stroke-width="1" />
<text x="257.30" y="457.83" font-size="9.4" text-anchor="end" fill="#231f20" font-weight="normal" stroke="#231f20" stroke-width="0.220" >150</text>
<line x1="260.30" y1="550.83" x2="262.50" y2="550.83" stroke="#333" stroke-width="1" />
<line x1="260.30" y1="512.27" x2="262.50" y2="512.27" stroke="#333" stroke-width="1" />
<line x1="260.30" y1="473.73" x2="262.50" y2="473.73" stroke="#333" stroke-width="1" />
<line x1="262.50" y1="570.10" x2="348.80" y2="570.10" stroke="#333" stroke-width="1" />
<line x1="284.20" y1="570.10" x2="284.20" y2="574.00" stroke="#333" stroke-width="1" />
<text x="284.20" y="585.10" font-size="9.3" text-anchor="middle" fill="#231f20" font-weight="normal" stroke="#231f20" stroke-width="0.218" >Early</text>
<line x1="327.40" y1="570.10" x2="327.40" y2="574.00" stroke="#333" stroke-width="1" />
<text x="327.40" y="585.10" font-size="9.3" text-anchor="middle" fill="#231f20" font-weight="normal" stroke="#231f20" stroke-width="0.218" >Late</text>
<text transform="translate(237.00,511.00) rotate(-90)" font-size="9.3" text-anchor="middle" fill="#231f20" font-weight="normal" stroke="#231f20" stroke-width="0.218">Latency (s)</text>
<line x1="284.20" y1="461.39" x2="327.40" y2="546.20" stroke="#c9c9c9" stroke-width="1.0" />
<line x1="284.20" y1="482.21" x2="327.40" y2="549.28" stroke="#c9c9c9" stroke-width="1.0" />
<line x1="284.20" y1="497.63" x2="327.40" y2="532.32" stroke="#c9c9c9" stroke-width="1.0" />
<line x1="284.20" y1="522.30" x2="327.40" y2="550.83" stroke="#c9c9c9" stroke-width="1.0" />
<line x1="284.20" y1="526.15" x2="327.40" y2="547.74" stroke="#c9c9c9" stroke-width="1.0" />
<line x1="284.20" y1="531.94" x2="327.40" y2="556.22" stroke="#c9c9c9" stroke-width="1.0" />
<line x1="284.20" y1="534.63" x2="327.40" y2="546.97" stroke="#c9c9c9" stroke-width="1.0" />
<line x1="284.20" y1="536.95" x2="327.40" y2="554.68" stroke="#c9c9c9" stroke-width="1.0" />
<line x1="284.20" y1="543.89" x2="327.40" y2="549.28" stroke="#c9c9c9" stroke-width="1.0" />
<line x1="284.20" y1="549.28" x2="327.40" y2="550.05" stroke="#c9c9c9" stroke-width="1.0" />
<circle cx="284.20" cy="461.39" r="3.6" fill="#c9c9c9" stroke="none" stroke-width="1" />
<circle cx="284.20" cy="482.21" r="3.6" fill="#c9c9c9" stroke="none" stroke-width="1" />
<circle cx="284.20" cy="497.63" r="3.6" fill="#c9c9c9" stroke="none" stroke-width="1" />
<circle cx="284.20" cy="522.30" r="3.6" fill="#c9c9c9" stroke="none" stroke-width="1" />
<circle cx="284.20" cy="526.15" r="3.6" fill="#c9c9c9" stroke="none" stroke-width="1" />
<circle cx="284.20" cy="531.94" r="3.6" fill="#c9c9c9" stroke="none" stroke-width="1" />
<circle cx="284.20" cy="534.63" r="3.6" fill="#c9c9c9" stroke="none" stroke-width="1" />
<circle cx="284.20" cy="536.95" r="3.6" fill="#c9c9c9" stroke="none" stroke-width="1" />
<circle cx="284.20" cy="543.89" r="3.6" fill="#c9c9c9" stroke="none" stroke-width="1" />
<circle cx="284.20" cy="549.28" r="3.6" fill="#c9c9c9" stroke="none" stroke-width="1" />
<circle cx="327.40" cy="546.20" r="3.6" fill="#86aef7" stroke="none" stroke-width="1" />
<circle cx="327.40" cy="549.28" r="3.6" fill="#86aef7" stroke="none" stroke-width="1" />
<circle cx="327.40" cy="532.32" r="3.6" fill="#86aef7" stroke="none" stroke-width="1" />
<circle cx="327.40" cy="550.83" r="3.6" fill="#86aef7" stroke="none" stroke-width="1" />
<circle cx="327.40" cy="547.74" r="3.6" fill="#86aef7" stroke="none" stroke-width="1" />
<circle cx="327.40" cy="556.22" r="3.6" fill="#86aef7" stroke="none" stroke-width="1" />
<circle cx="327.40" cy="546.97" r="3.6" fill="#86aef7" stroke="none" stroke-width="1" />
<circle cx="327.40" cy="554.68" r="3.6" fill="#86aef7" stroke="none" stroke-width="1" />
<circle cx="327.40" cy="549.28" r="3.6" fill="#86aef7" stroke="none" stroke-width="1" />
<circle cx="327.40" cy="550.05" r="3.6" fill="#86aef7" stroke="none" stroke-width="1" />
<line x1="284.20" y1="515.36" x2="327.40" y2="548.28" stroke="#333" stroke-width="1.3" stroke-dasharray="3,1.6"/>
<line x1="284.20" y1="507.65" x2="284.20" y2="523.07" stroke="#333" stroke-width="1.2" />
<line x1="281.20" y1="507.65" x2="287.20" y2="507.65" stroke="#333" stroke-width="1.2" />
<line x1="281.20" y1="523.07" x2="287.20" y2="523.07" stroke="#333" stroke-width="1.2" />
<circle cx="284.20" cy="515.36" r="3.7" fill="#333" stroke="none" stroke-width="1" />
<line x1="327.40" y1="545.81" x2="327.40" y2="550.83" stroke="#0a7cff" stroke-width="1.2" />
<circle cx="327.40" cy="548.28" r="3.7" fill="#0a7cff" stroke="none" stroke-width="1" />
<polyline points="284.30,453.30 284.30,449.50 327.50,449.50 327.50,453.30" fill="none" stroke="#111" stroke-width="1.1" />
<path d="M302.50,438.10L302.50,444.70M305.36,439.75L299.64,443.05M305.36,443.05L299.64,439.75" fill="none" stroke="#111" stroke-width="1.5" stroke-linecap="round"/>
<circle cx="302.50" cy="441.40" r="1.125" fill="#111" stroke="none" stroke-width="1" />
<path d="M309.70,438.10L309.70,444.70M312.56,439.75L306.84,443.05M312.56,443.05L306.84,439.75" fill="none" stroke="#111" stroke-width="1.5" stroke-linecap="round"/>
<circle cx="309.70" cy="441.40" r="1.125" fill="#111" stroke="none" stroke-width="1" />
<line x1="402.40" y1="439.10" x2="402.40" y2="551.30" stroke="#333" stroke-width="1" />
<line x1="398.70" y1="551.30" x2="402.40" y2="551.30" stroke="#333" stroke-width="1" />
<text x="396.70" y="555.37" font-size="11.3" text-anchor="end" fill="#231f20" font-weight="normal" stroke="#231f20" stroke-width="0.264" >0</text>
<line x1="398.70" y1="523.25" x2="402.40" y2="523.25" stroke="#333" stroke-width="1" />
<text x="396.70" y="527.32" font-size="11.3" text-anchor="end" fill="#231f20" font-weight="normal" stroke="#231f20" stroke-width="0.264" >1</text>
<line x1="398.70" y1="495.20" x2="402.40" y2="495.20" stroke="#333" stroke-width="1" />
<text x="396.70" y="499.27" font-size="11.3" text-anchor="end" fill="#231f20" font-weight="normal" stroke="#231f20" stroke-width="0.264" >2</text>
<line x1="398.70" y1="467.15" x2="402.40" y2="467.15" stroke="#333" stroke-width="1" />
<text x="396.70" y="471.22" font-size="11.3" text-anchor="end" fill="#231f20" font-weight="normal" stroke="#231f20" stroke-width="0.264" >3</text>
<line x1="398.70" y1="439.10" x2="402.40" y2="439.10" stroke="#333" stroke-width="1" />
<text x="396.70" y="443.17" font-size="11.3" text-anchor="end" fill="#231f20" font-weight="normal" stroke="#231f20" stroke-width="0.264" >4</text>
<line x1="402.40" y1="551.30" x2="551.40" y2="551.30" stroke="#333" stroke-width="1" />
<line x1="415.00" y1="551.30" x2="415.00" y2="555.50" stroke="#333" stroke-width="1" />
<text x="415.00" y="568.24" font-size="11.3" text-anchor="middle" fill="#231f20" font-weight="normal" stroke="#231f20" stroke-width="0.264" >1</text>
<line x1="439.90" y1="551.30" x2="439.90" y2="555.50" stroke="#333" stroke-width="1" />
<text x="439.90" y="568.24" font-size="11.3" text-anchor="middle" fill="#231f20" font-weight="normal" stroke="#231f20" stroke-width="0.264" >2</text>
<line x1="464.80" y1="551.30" x2="464.80" y2="555.50" stroke="#333" stroke-width="1" />
<text x="464.80" y="568.24" font-size="11.3" text-anchor="middle" fill="#231f20" font-weight="normal" stroke="#231f20" stroke-width="0.264" >3</text>
<line x1="489.70" y1="551.30" x2="489.70" y2="555.50" stroke="#333" stroke-width="1" />
<text x="489.70" y="568.24" font-size="11.3" text-anchor="middle" fill="#231f20" font-weight="normal" stroke="#231f20" stroke-width="0.264" >4</text>
<line x1="514.60" y1="551.30" x2="514.60" y2="555.50" stroke="#333" stroke-width="1" />
<text x="514.60" y="568.24" font-size="11.3" text-anchor="middle" fill="#231f20" font-weight="normal" stroke="#231f20" stroke-width="0.264" >5</text>
<line x1="539.50" y1="551.30" x2="539.50" y2="555.50" stroke="#333" stroke-width="1" />
<text x="539.50" y="568.24" font-size="11.3" text-anchor="middle" fill="#231f20" font-weight="normal" stroke="#231f20" stroke-width="0.264" >6</text>
<line x1="415.00" y1="481.17" x2="415.00" y2="500.81" stroke="#0a7cff" stroke-width="1.4" />
<line x1="439.90" y1="453.12" x2="439.90" y2="483.98" stroke="#0a7cff" stroke-width="1.4" />
<line x1="464.80" y1="460.98" x2="464.80" y2="492.39" stroke="#0a7cff" stroke-width="1.4" />
<line x1="489.70" y1="453.97" x2="489.70" y2="482.86" stroke="#0a7cff" stroke-width="1.4" />
<line x1="514.60" y1="454.25" x2="514.60" y2="485.94" stroke="#0a7cff" stroke-width="1.4" />
<line x1="539.50" y1="439.10" x2="539.50" y2="478.37" stroke="#0a7cff" stroke-width="1.4" />
<polyline points="415.00,490.71 439.90,468.55 464.80,476.69 489.70,468.27 514.60,470.24 539.50,458.73" fill="none" stroke="#0a7cff" stroke-width="1.0" />
<circle cx="415.00" cy="490.71" r="4.5" fill="#0a7cff" stroke="none" stroke-width="1" />
<circle cx="439.90" cy="468.55" r="4.5" fill="#0a7cff" stroke="none" stroke-width="1" />
<circle cx="464.80" cy="476.69" r="4.5" fill="#0a7cff" stroke="none" stroke-width="1" />
<circle cx="489.70" cy="468.27" r="4.5" fill="#0a7cff" stroke="none" stroke-width="1" />
<circle cx="514.60" cy="470.24" r="4.5" fill="#0a7cff" stroke="none" stroke-width="1" />
<circle cx="539.50" cy="458.73" r="4.5" fill="#0a7cff" stroke="none" stroke-width="1" />
<line x1="415.00" y1="517.64" x2="415.00" y2="526.05" stroke="#4d4d4d" stroke-width="1.4" />
<line x1="439.90" y1="502.21" x2="439.90" y2="514.83" stroke="#4d4d4d" stroke-width="1.4" />
<line x1="464.80" y1="500.81" x2="464.80" y2="514.83" stroke="#4d4d4d" stroke-width="1.4" />
<line x1="489.70" y1="485.38" x2="489.70" y2="513.43" stroke="#4d4d4d" stroke-width="1.4" />
<line x1="514.60" y1="493.80" x2="514.60" y2="511.47" stroke="#4d4d4d" stroke-width="1.4" />
<line x1="539.50" y1="490.99" x2="539.50" y2="504.18" stroke="#4d4d4d" stroke-width="1.4" />
<polyline points="415.00,521.85 439.90,508.38 464.80,507.82 489.70,499.69 514.60,502.49 539.50,497.44" fill="none" stroke="#4d4d4d" stroke-width="1.0" />
<circle cx="415.00" cy="521.85" r="4.5" fill="#4d4d4d" stroke="none" stroke-width="1" />
<circle cx="439.90" cy="508.38" r="4.5" fill="#4d4d4d" stroke="none" stroke-width="1" />
<circle cx="464.80" cy="507.82" r="4.5" fill="#4d4d4d" stroke="none" stroke-width="1" />
<circle cx="489.70" cy="499.69" r="4.5" fill="#4d4d4d" stroke="none" stroke-width="1" />
<circle cx="514.60" cy="502.49" r="4.5" fill="#4d4d4d" stroke="none" stroke-width="1" />
<circle cx="539.50" cy="497.44" r="4.5" fill="#4d4d4d" stroke="none" stroke-width="1" />
<text x="477.30" y="587.30" font-size="11.7" text-anchor="middle" fill="#231f20" font-weight="normal" stroke="#231f20" stroke-width="0.274" >Block of 3 trials</text>
<text transform="translate(382.20,494.00) rotate(-90)" font-size="11.8" text-anchor="middle" fill="#231f20" font-weight="normal" stroke="#231f20" stroke-width="0.276">Rewards per min</text>
<line x1="592.80" y1="453.70" x2="592.80" y2="570.10" stroke="#333" stroke-width="1" />
<line x1="589.40" y1="570.10" x2="592.80" y2="570.10" stroke="#333" stroke-width="1" />
<text x="587.60" y="573.48" font-size="9.4" text-anchor="end" fill="#231f20" font-weight="normal" stroke="#231f20" stroke-width="0.220" >0</text>
<line x1="589.40" y1="541.00" x2="592.80" y2="541.00" stroke="#333" stroke-width="1" />
<text x="587.60" y="544.38" font-size="9.4" text-anchor="end" fill="#231f20" font-weight="normal" stroke="#231f20" stroke-width="0.220" >2</text>
<line x1="589.40" y1="511.90" x2="592.80" y2="511.90" stroke="#333" stroke-width="1" />
<text x="587.60" y="515.28" font-size="9.4" text-anchor="end" fill="#231f20" font-weight="normal" stroke="#231f20" stroke-width="0.220" >4</text>
<line x1="589.40" y1="482.80" x2="592.80" y2="482.80" stroke="#333" stroke-width="1" />
<text x="587.60" y="486.18" font-size="9.4" text-anchor="end" fill="#231f20" font-weight="normal" stroke="#231f20" stroke-width="0.220" >6</text>
<line x1="589.40" y1="453.70" x2="592.80" y2="453.70" stroke="#333" stroke-width="1" />
<text x="587.60" y="457.08" font-size="9.4" text-anchor="end" fill="#231f20" font-weight="normal" stroke="#231f20" stroke-width="0.220" >8</text>
<line x1="590.60" y1="555.55" x2="592.80" y2="555.55" stroke="#333" stroke-width="1" />
<line x1="590.60" y1="526.45" x2="592.80" y2="526.45" stroke="#333" stroke-width="1" />
<line x1="590.60" y1="497.35" x2="592.80" y2="497.35" stroke="#333" stroke-width="1" />
<line x1="590.60" y1="468.25" x2="592.80" y2="468.25" stroke="#333" stroke-width="1" />
<line x1="592.80" y1="570.10" x2="679.70" y2="570.10" stroke="#333" stroke-width="1" />
<line x1="614.90" y1="570.10" x2="614.90" y2="574.00" stroke="#333" stroke-width="1" />
<text x="614.90" y="584.00" font-size="9.3" text-anchor="middle" fill="#231f20" font-weight="normal" stroke="#231f20" stroke-width="0.218" >Early</text>
<line x1="658.40" y1="570.10" x2="658.40" y2="574.00" stroke="#333" stroke-width="1" />
<text x="658.40" y="584.00" font-size="9.3" text-anchor="middle" fill="#231f20" font-weight="normal" stroke="#231f20" stroke-width="0.218" >Late</text>
<text transform="translate(577.80,511.00) rotate(-90)" font-size="9.3" text-anchor="middle" fill="#231f20" font-weight="normal" stroke="#231f20" stroke-width="0.218">Rewards per min</text>
<line x1="614.90" y1="524.27" x2="658.40" y2="472.62" stroke="#c9c9c9" stroke-width="1.0" />
<line x1="614.90" y1="536.63" x2="658.40" y2="514.81" stroke="#c9c9c9" stroke-width="1.0" />
<line x1="614.90" y1="536.63" x2="658.40" y2="535.18" stroke="#c9c9c9" stroke-width="1.0" />
<line x1="614.90" y1="550.46" x2="658.40" y2="532.27" stroke="#c9c9c9" stroke-width="1.0" />
<line x1="614.90" y1="552.64" x2="658.40" y2="539.55" stroke="#c9c9c9" stroke-width="1.0" />
<line x1="614.90" y1="555.55" x2="658.40" y2="536.63" stroke="#c9c9c9" stroke-width="1.0" />
<line x1="614.90" y1="557.00" x2="658.40" y2="549.73" stroke="#c9c9c9" stroke-width="1.0" />
<line x1="614.90" y1="560.64" x2="658.40" y2="541.00" stroke="#c9c9c9" stroke-width="1.0" />
<circle cx="614.90" cy="524.27" r="3.6" fill="#c9c9c9" stroke="none" stroke-width="1" />
<circle cx="614.90" cy="536.63" r="3.6" fill="#c9c9c9" stroke="none" stroke-width="1" />
<circle cx="614.90" cy="536.63" r="3.6" fill="#c9c9c9" stroke="none" stroke-width="1" />
<circle cx="614.90" cy="550.46" r="3.6" fill="#c9c9c9" stroke="none" stroke-width="1" />
<circle cx="614.90" cy="552.64" r="3.6" fill="#c9c9c9" stroke="none" stroke-width="1" />
<circle cx="614.90" cy="555.55" r="3.6" fill="#c9c9c9" stroke="none" stroke-width="1" />
<circle cx="614.90" cy="557.00" r="3.6" fill="#c9c9c9" stroke="none" stroke-width="1" />
<circle cx="614.90" cy="560.64" r="3.6" fill="#c9c9c9" stroke="none" stroke-width="1" />
<circle cx="658.40" cy="472.62" r="3.6" fill="#86aef7" stroke="none" stroke-width="1" />
<circle cx="658.40" cy="514.81" r="3.6" fill="#86aef7" stroke="none" stroke-width="1" />
<circle cx="658.40" cy="535.18" r="3.6" fill="#86aef7" stroke="none" stroke-width="1" />
<circle cx="658.40" cy="532.27" r="3.6" fill="#86aef7" stroke="none" stroke-width="1" />
<circle cx="658.40" cy="539.55" r="3.6" fill="#86aef7" stroke="none" stroke-width="1" />
<circle cx="658.40" cy="536.63" r="3.6" fill="#86aef7" stroke="none" stroke-width="1" />
<circle cx="658.40" cy="549.73" r="3.6" fill="#86aef7" stroke="none" stroke-width="1" />
<circle cx="658.40" cy="541.00" r="3.6" fill="#86aef7" stroke="none" stroke-width="1" />
<line x1="614.90" y1="546.82" x2="658.40" y2="529.36" stroke="#333" stroke-width="1.3" stroke-dasharray="3,1.6"/>
<circle cx="614.90" cy="546.82" r="3.7" fill="#333" stroke="none" stroke-width="1" />
<line x1="658.40" y1="522.81" x2="658.40" y2="535.47" stroke="#0a7cff" stroke-width="1.2" />
<line x1="654.40" y1="522.81" x2="662.40" y2="522.81" stroke="#0a7cff" stroke-width="1.2" />
<line x1="654.40" y1="535.47" x2="662.40" y2="535.47" stroke="#0a7cff" stroke-width="1.2" />
<circle cx="658.40" cy="529.36" r="3.7" fill="#0a7cff" stroke="none" stroke-width="1" />
<polyline points="614.90,453.00 614.90,448.80 658.40,448.80 658.40,453.00" fill="none" stroke="#111" stroke-width="1.1" />
<path d="M633.90,438.05L633.90,443.75M636.37,439.47L631.43,442.32M636.37,442.32L631.43,439.47" fill="none" stroke="#111" stroke-width="1.4" stroke-linecap="round"/>
<circle cx="633.90" cy="440.90" r="1.0499999999999998" fill="#111" stroke="none" stroke-width="1" />
<path d="M639.90,438.05L639.90,443.75M642.37,439.47L637.43,442.32M642.37,442.32L637.43,439.47" fill="none" stroke="#111" stroke-width="1.4" stroke-linecap="round"/>
<circle cx="639.90" cy="440.90" r="1.0499999999999998" fill="#111" stroke="none" stroke-width="1" />
<rect x="481.20" y="18.40" width="142.50" height="11.00" fill="#1576ea" stroke="none" stroke-width="1" />
<rect x="483.95" y="18.40" width="0.91" height="11.00" fill="#ff8a00" stroke="none" stroke-width="1" />
<rect x="486.09" y="18.40" width="0.91" height="11.00" fill="#ff8a00" stroke="none" stroke-width="1" />
<rect x="488.22" y="18.40" width="0.91" height="11.00" fill="#ff8a00" stroke="none" stroke-width="1" />
<rect x="489.65" y="18.40" width="0.91" height="11.00" fill="#ff8a00" stroke="none" stroke-width="1" />
<rect x="495.35" y="18.40" width="1.62" height="11.00" fill="#ff8a00" stroke="none" stroke-width="1" />
<rect x="498.20" y="18.40" width="3.05" height="11.00" fill="#ff8a00" stroke="none" stroke-width="1" />
<rect x="501.76" y="18.40" width="0.91" height="11.00" fill="#ff8a00" stroke="none" stroke-width="1" />
<rect x="504.61" y="18.40" width="3.76" height="11.00" fill="#ff8a00" stroke="none" stroke-width="1" />
<rect x="509.60" y="18.40" width="0.91" height="11.00" fill="#ff8a00" stroke="none" stroke-width="1" />
<rect x="511.02" y="18.40" width="0.91" height="11.00" fill="#ff8a00" stroke="none" stroke-width="1" />
<rect x="515.30" y="18.40" width="3.76" height="11.00" fill="#ff8a00" stroke="none" stroke-width="1" />
<rect x="520.29" y="18.40" width="0.91" height="11.00" fill="#ff8a00" stroke="none" stroke-width="1" />
<rect x="523.14" y="18.40" width="0.91" height="11.00" fill="#ff8a00" stroke="none" stroke-width="1" />
<rect x="525.99" y="18.40" width="0.91" height="11.00" fill="#ff8a00" stroke="none" stroke-width="1" />
<rect x="530.98" y="18.40" width="0.91" height="11.00" fill="#ff8a00" stroke="none" stroke-width="1" />
<rect x="536.67" y="18.40" width="5.19" height="11.00" fill="#ff8a00" stroke="none" stroke-width="1" />
<rect x="543.09" y="18.40" width="0.91" height="11.00" fill="#ff8a00" stroke="none" stroke-width="1" />
<rect x="545.94" y="18.40" width="0.91" height="11.00" fill="#ff8a00" stroke="none" stroke-width="1" />
<rect x="548.79" y="18.40" width="0.91" height="11.00" fill="#ff8a00" stroke="none" stroke-width="1" />
<rect x="565.89" y="18.40" width="0.91" height="11.00" fill="#ff8a00" stroke="none" stroke-width="1" />
<rect x="573.73" y="18.40" width="0.91" height="11.00" fill="#ff8a00" stroke="none" stroke-width="1" />
<rect x="587.98" y="18.40" width="0.91" height="11.00" fill="#ff8a00" stroke="none" stroke-width="1" />
<rect x="592.96" y="18.40" width="0.91" height="11.00" fill="#ff8a00" stroke="none" stroke-width="1" />
<rect x="595.81" y="18.40" width="0.91" height="11.00" fill="#ff8a00" stroke="none" stroke-width="1" />
<rect x="597.95" y="18.40" width="0.91" height="11.00" fill="#ff8a00" stroke="none" stroke-width="1" />
<rect x="609.35" y="18.40" width="0.91" height="11.00" fill="#ff8a00" stroke="none" stroke-width="1" />
<rect x="611.49" y="18.40" width="0.91" height="11.00" fill="#ff8a00" stroke="none" stroke-width="1" />
<rect x="613.62" y="18.40" width="0.91" height="11.00" fill="#ff8a00" stroke="none" stroke-width="1" />
<rect x="617.19" y="18.40" width="1.62" height="11.00" fill="#ff8a00" stroke="none" stroke-width="1" />
<rect x="620.75" y="18.40" width="0.91" height="11.00" fill="#ff8a00" stroke="none" stroke-width="1" />
<rect x="481.20" y="18.40" width="142.50" height="11.00" fill="none" stroke="#7a7a7a" stroke-width="0.7" />
<rect x="481.25" y="35.00" width="0.60" height="5.60" fill="#7893f8" stroke="none" stroke-width="1" />
<rect x="481.96" y="35.00" width="0.60" height="5.60" fill="#7893f8" stroke="none" stroke-width="1" />
<rect x="482.68" y="35.00" width="0.60" height="5.60" fill="#7893f8" stroke="none" stroke-width="1" />
<rect x="483.39" y="35.00" width="0.60" height="5.60" fill="#7893f8" stroke="none" stroke-width="1" />
<rect x="484.10" y="69.70" width="0.60" height="5.60" fill="#f7a860" stroke="none" stroke-width="1" />
<rect x="484.81" y="35.00" width="0.60" height="5.60" fill="#7893f8" stroke="none" stroke-width="1" />
<rect x="485.52" y="35.00" width="0.60" height="5.60" fill="#7893f8" stroke="none" stroke-width="1" />
<rect x="486.24" y="69.70" width="0.60" height="5.60" fill="#f7a860" stroke="none" stroke-width="1" />
<rect x="486.95" y="35.00" width="0.60" height="5.60" fill="#7893f8" stroke="none" stroke-width="1" />
<rect x="487.66" y="35.00" width="0.60" height="5.60" fill="#7893f8" stroke="none" stroke-width="1" />
<rect x="488.38" y="69.70" width="0.60" height="5.60" fill="#f7a860" stroke="none" stroke-width="1" />
<rect x="489.09" y="35.00" width="0.60" height="5.60" fill="#7893f8" stroke="none" stroke-width="1" />
<rect x="489.80" y="69.70" width="0.60" height="5.60" fill="#f7a860" stroke="none" stroke-width="1" />
<rect x="490.51" y="35.00" width="0.60" height="5.60" fill="#7893f8" stroke="none" stroke-width="1" />
<rect x="491.23" y="35.00" width="0.60" height="5.60" fill="#7893f8" stroke="none" stroke-width="1" />
<rect x="491.94" y="35.00" width="0.60" height="5.60" fill="#7893f8" stroke="none" stroke-width="1" />
<rect x="492.65" y="35.00" width="0.60" height="5.60" fill="#7893f8" stroke="none" stroke-width="1" />
<rect x="493.36" y="35.00" width="0.60" height="5.60" fill="#7893f8" stroke="none" stroke-width="1" />
<rect x="494.07" y="35.00" width="0.60" height="5.60" fill="#7893f8" stroke="none" stroke-width="1" />
<rect x="494.79" y="35.00" width="0.60" height="5.60" fill="#7893f8" stroke="none" stroke-width="1" />
<rect x="495.50" y="69.70" width="0.60" height="5.60" fill="#f7a860" stroke="none" stroke-width="1" />
<rect x="496.21" y="69.70" width="0.60" height="5.60" fill="#f7a860" stroke="none" stroke-width="1" />
<rect x="496.93" y="35.00" width="0.60" height="5.60" fill="#7893f8" stroke="none" stroke-width="1" />
<rect x="497.64" y="35.00" width="0.60" height="5.60" fill="#7893f8" stroke="none" stroke-width="1" />
<rect x="498.35" y="69.70" width="0.60" height="5.60" fill="#f7a860" stroke="none" stroke-width="1" />
<rect x="499.06" y="69.70" width="0.60" height="5.60" fill="#f7a860" stroke="none" stroke-width="1" />
<rect x="499.77" y="69.70" width="0.60" height="5.60" fill="#f7a860" stroke="none" stroke-width="1" />
<rect x="500.49" y="69.70" width="0.60" height="5.60" fill="#f7a860" stroke="none" stroke-width="1" />
<rect x="501.20" y="35.00" width="0.60" height="5.60" fill="#7893f8" stroke="none" stroke-width="1" />
<rect x="501.91" y="69.70" width="0.60" height="5.60" fill="#f7a860" stroke="none" stroke-width="1" />
<rect x="502.62" y="35.00" width="0.60" height="5.60" fill="#7893f8" stroke="none" stroke-width="1" />
<rect x="503.34" y="35.00" width="0.60" height="5.60" fill="#7893f8" stroke="none" stroke-width="1" />
<rect x="504.05" y="35.00" width="0.60" height="5.60" fill="#7893f8" stroke="none" stroke-width="1" />
<rect x="504.76" y="69.70" width="0.60" height="5.60" fill="#f7a860" stroke="none" stroke-width="1" />
<rect x="505.48" y="69.70" width="0.60" height="5.60" fill="#f7a860" stroke="none" stroke-width="1" />
<rect x="506.19" y="69.70" width="0.60" height="5.60" fill="#f7a860" stroke="none" stroke-width="1" />
<rect x="506.90" y="69.70" width="0.60" height="5.60" fill="#f7a860" stroke="none" stroke-width="1" />
<rect x="507.61" y="69.70" width="0.60" height="5.60" fill="#f7a860" stroke="none" stroke-width="1" />
<rect x="508.32" y="35.00" width="0.60" height="5.60" fill="#7893f8" stroke="none" stroke-width="1" />
<rect x="509.04" y="35.00" width="0.60" height="5.60" fill="#7893f8" stroke="none" stroke-width="1" />
<rect x="509.75" y="69.70" width="0.60" height="5.60" fill="#f7a860" stroke="none" stroke-width="1" />
<rect x="510.46" y="35.00" width="0.60" height="5.60" fill="#7893f8" stroke="none" stroke-width="1" />
<rect x="511.18" y="69.70" width="0.60" height="5.60" fill="#f7a860" stroke="none" stroke-width="1" />
<rect x="511.89" y="35.00" width="0.60" height="5.60" fill="#7893f8" stroke="none" stroke-width="1" />
<rect x="512.60" y="35.00" width="0.60" height="5.60" fill="#7893f8" stroke="none" stroke-width="1" />
<rect x="513.31" y="35.00" width="0.60" height="5.60" fill="#7893f8" stroke="none" stroke-width="1" />
<rect x="514.02" y="35.00" width="0.60" height="5.60" fill="#7893f8" stroke="none" stroke-width="1" />
<rect x="514.74" y="35.00" width="0.60" height="5.60" fill="#7893f8" stroke="none" stroke-width="1" />
<rect x="515.45" y="69.70" width="0.60" height="5.60" fill="#f7a860" stroke="none" stroke-width="1" />
<rect x="516.16" y="69.70" width="0.60" height="5.60" fill="#f7a860" stroke="none" stroke-width="1" />
<rect x="516.88" y="69.70" width="0.60" height="5.60" fill="#f7a860" stroke="none" stroke-width="1" />
<rect x="517.59" y="69.70" width="0.60" height="5.60" fill="#f7a860" stroke="none" stroke-width="1" />
<rect x="518.30" y="69.70" width="0.60" height="5.60" fill="#f7a860" stroke="none" stroke-width="1" />
<rect x="519.01" y="35.00" width="0.60" height="5.60" fill="#7893f8" stroke="none" stroke-width="1" />
<rect x="519.72" y="35.00" width="0.60" height="5.60" fill="#7893f8" stroke="none" stroke-width="1" />
<rect x="520.44" y="69.70" width="0.60" height="5.60" fill="#f7a860" stroke="none" stroke-width="1" />
<rect x="521.15" y="35.00" width="0.60" height="5.60" fill="#7893f8" stroke="none" stroke-width="1" />
<rect x="521.86" y="35.00" width="0.60" height="5.60" fill="#7893f8" stroke="none" stroke-width="1" />
<rect x="522.57" y="35.00" width="0.60" height="5.60" fill="#7893f8" stroke="none" stroke-width="1" />
<rect x="523.29" y="69.70" width="0.60" height="5.60" fill="#f7a860" stroke="none" stroke-width="1" />
<rect x="524.00" y="35.00" width="0.60" height="5.60" fill="#7893f8" stroke="none" stroke-width="1" />
<rect x="524.71" y="35.00" width="0.60" height="5.60" fill="#7893f8" stroke="none" stroke-width="1" />
<rect x="525.42" y="35.00" width="0.60" height="5.60" fill="#7893f8" stroke="none" stroke-width="1" />
<rect x="526.14" y="69.70" width="0.60" height="5.60" fill="#f7a860" stroke="none" stroke-width="1" />
<rect x="526.85" y="35.00" width="0.60" height="5.60" fill="#7893f8" stroke="none" stroke-width="1" />
<rect x="527.56" y="35.00" width="0.60" height="5.60" fill="#7893f8" stroke="none" stroke-width="1" />
<rect x="528.27" y="35.00" width="0.60" height="5.60" fill="#7893f8" stroke="none" stroke-width="1" />
<rect x="528.99" y="35.00" width="0.60" height="5.60" fill="#7893f8" stroke="none" stroke-width="1" />
<rect x="529.70" y="35.00" width="0.60" height="5.60" fill="#7893f8" stroke="none" stroke-width="1" />
<rect x="530.41" y="35.00" width="0.60" height="5.60" fill="#7893f8" stroke="none" stroke-width="1" />
<rect x="531.12" y="69.70" width="0.60" height="5.60" fill="#f7a860" stroke="none" stroke-width="1" />
<rect x="531.84" y="35.00" width="0.60" height="5.60" fill="#7893f8" stroke="none" stroke-width="1" />
<rect x="532.55" y="35.00" width="0.60" height="5.60" fill="#7893f8" stroke="none" stroke-width="1" />
<rect x="533.26" y="35.00" width="0.60" height="5.60" fill="#7893f8" stroke="none" stroke-width="1" />
<rect x="533.97" y="35.00" width="0.60" height="5.60" fill="#7893f8" stroke="none" stroke-width="1" />
<rect x="534.69" y="35.00" width="0.60" height="5.60" fill="#7893f8" stroke="none" stroke-width="1" />
<rect x="535.40" y="35.00" width="0.60" height="5.60" fill="#7893f8" stroke="none" stroke-width="1" />
<rect x="536.11" y="35.00" width="0.60" height="5.60" fill="#7893f8" stroke="none" stroke-width="1" />
<rect x="536.82" y="69.70" width="0.60" height="5.60" fill="#f7a860" stroke="none" stroke-width="1" />
<rect x="537.54" y="69.70" width="0.60" height="5.60" fill="#f7a860" stroke="none" stroke-width="1" />
<rect x="538.25" y="69.70" width="0.60" height="5.60" fill="#f7a860" stroke="none" stroke-width="1" />
<rect x="538.96" y="69.70" width="0.60" height="5.60" fill="#f7a860" stroke="none" stroke-width="1" />
<rect x="539.67" y="69.70" width="0.60" height="5.60" fill="#f7a860" stroke="none" stroke-width="1" />
<rect x="540.39" y="69.70" width="0.60" height="5.60" fill="#f7a860" stroke="none" stroke-width="1" />
<rect x="541.10" y="69.70" width="0.60" height="5.60" fill="#f7a860" stroke="none" stroke-width="1" />
<rect x="541.81" y="35.00" width="0.60" height="5.60" fill="#7893f8" stroke="none" stroke-width="1" />
<rect x="542.52" y="35.00" width="0.60" height="5.60" fill="#7893f8" stroke="none" stroke-width="1" />
<rect x="543.24" y="69.70" width="0.60" height="5.60" fill="#f7a860" stroke="none" stroke-width="1" />
<rect x="543.95" y="35.00" width="0.60" height="5.60" fill="#7893f8" stroke="none" stroke-width="1" />
<rect x="544.66" y="35.00" width="0.60" height="5.60" fill="#7893f8" stroke="none" stroke-width="1" />
<rect x="545.38" y="35.00" width="0.60" height="5.60" fill="#7893f8" stroke="none" stroke-width="1" />
<rect x="546.09" y="69.70" width="0.60" height="5.60" fill="#f7a860" stroke="none" stroke-width="1" />
<rect x="546.80" y="35.00" width="0.60" height="5.60" fill="#7893f8" stroke="none" stroke-width="1" />
<rect x="547.51" y="35.00" width="0.60" height="5.60" fill="#7893f8" stroke="none" stroke-width="1" />
<rect x="548.22" y="35.00" width="0.60" height="5.60" fill="#7893f8" stroke="none" stroke-width="1" />
<rect x="548.94" y="69.70" width="0.60" height="5.60" fill="#f7a860" stroke="none" stroke-width="1" />
<rect x="549.65" y="35.00" width="0.60" height="5.60" fill="#7893f8" stroke="none" stroke-width="1" />
<rect x="550.36" y="35.00" width="0.60" height="5.60" fill="#7893f8" stroke="none" stroke-width="1" />
<rect x="551.07" y="35.00" width="0.60" height="5.60" fill="#7893f8" stroke="none" stroke-width="1" />
<rect x="551.79" y="35.00" width="0.60" height="5.60" fill="#7893f8" stroke="none" stroke-width="1" />
<rect x="552.50" y="35.00" width="0.60" height="5.60" fill="#7893f8" stroke="none" stroke-width="1" />
<rect x="553.21" y="35.00" width="0.60" height="5.60" fill="#7893f8" stroke="none" stroke-width="1" />
<rect x="553.92" y="35.00" width="0.60" height="5.60" fill="#7893f8" stroke="none" stroke-width="1" />
<rect x="554.64" y="35.00" width="0.60" height="5.60" fill="#7893f8" stroke="none" stroke-width="1" />
<rect x="555.35" y="35.00" width="0.60" height="5.60" fill="#7893f8" stroke="none" stroke-width="1" />
<rect x="556.06" y="35.00" width="0.60" height="5.60" fill="#7893f8" stroke="none" stroke-width="1" />
<rect x="556.77" y="35.00" width="0.60" height="5.60" fill="#7893f8" stroke="none" stroke-width="1" />
<rect x="557.49" y="35.00" width="0.60" height="5.60" fill="#7893f8" stroke="none" stroke-width="1" />
<rect x="558.20" y="35.00" width="0.60" height="5.60" fill="#7893f8" stroke="none" stroke-width="1" />
<rect x="558.91" y="35.00" width="0.60" height="5.60" fill="#7893f8" stroke="none" stroke-width="1" />
<rect x="559.62" y="35.00" width="0.60" height="5.60" fill="#7893f8" stroke="none" stroke-width="1" />
<rect x="560.34" y="35.00" width="0.60" height="5.60" fill="#7893f8" stroke="none" stroke-width="1" />
<rect x="561.05" y="35.00" width="0.60" height="5.60" fill="#7893f8" stroke="none" stroke-width="1" />
<rect x="561.76" y="35.00" width="0.60" height="5.60" fill="#7893f8" stroke="none" stroke-width="1" />
<rect x="562.47" y="35.00" width="0.60" height="5.60" fill="#7893f8" stroke="none" stroke-width="1" />
<rect x="563.19" y="35.00" width="0.60" height="5.60" fill="#7893f8" stroke="none" stroke-width="1" />
<rect x="563.90" y="35.00" width="0.60" height="5.60" fill="#7893f8" stroke="none" stroke-width="1" />
<rect x="564.61" y="35.00" width="0.60" height="5.60" fill="#7893f8" stroke="none" stroke-width="1" />
<rect x="565.32" y="35.00" width="0.60" height="5.60" fill="#7893f8" stroke="none" stroke-width="1" />
<rect x="566.04" y="69.70" width="0.60" height="5.60" fill="#f7a860" stroke="none" stroke-width="1" />
<rect x="566.75" y="35.00" width="0.60" height="5.60" fill="#7893f8" stroke="none" stroke-width="1" />
<rect x="567.46" y="35.00" width="0.60" height="5.60" fill="#7893f8" stroke="none" stroke-width="1" />
<rect x="568.17" y="35.00" width="0.60" height="5.60" fill="#7893f8" stroke="none" stroke-width="1" />
<rect x="568.89" y="35.00" width="0.60" height="5.60" fill="#7893f8" stroke="none" stroke-width="1" />
<rect x="569.60" y="35.00" width="0.60" height="5.60" fill="#7893f8" stroke="none" stroke-width="1" />
<rect x="570.31" y="35.00" width="0.60" height="5.60" fill="#7893f8" stroke="none" stroke-width="1" />
<rect x="571.02" y="35.00" width="0.60" height="5.60" fill="#7893f8" stroke="none" stroke-width="1" />
<rect x="571.74" y="35.00" width="0.60" height="5.60" fill="#7893f8" stroke="none" stroke-width="1" />
<rect x="572.45" y="35.00" width="0.60" height="5.60" fill="#7893f8" stroke="none" stroke-width="1" />
<rect x="573.16" y="35.00" width="0.60" height="5.60" fill="#7893f8" stroke="none" stroke-width="1" />
<rect x="573.88" y="69.70" width="0.60" height="5.60" fill="#f7a860" stroke="none" stroke-width="1" />
<rect x="574.59" y="35.00" width="0.60" height="5.60" fill="#7893f8" stroke="none" stroke-width="1" />
<rect x="575.30" y="35.00" width="0.60" height="5.60" fill="#7893f8" stroke="none" stroke-width="1" />
<rect x="576.01" y="35.00" width="0.60" height="5.60" fill="#7893f8" stroke="none" stroke-width="1" />
<rect x="576.72" y="35.00" width="0.60" height="5.60" fill="#7893f8" stroke="none" stroke-width="1" />
<rect x="577.44" y="35.00" width="0.60" height="5.60" fill="#7893f8" stroke="none" stroke-width="1" />
<rect x="578.15" y="35.00" width="0.60" height="5.60" fill="#7893f8" stroke="none" stroke-width="1" />
<rect x="578.86" y="35.00" width="0.60" height="5.60" fill="#7893f8" stroke="none" stroke-width="1" />
<rect x="579.57" y="35.00" width="0.60" height="5.60" fill="#7893f8" stroke="none" stroke-width="1" />
<rect x="580.29" y="35.00" width="0.60" height="5.60" fill="#7893f8" stroke="none" stroke-width="1" />
<rect x="581.00" y="35.00" width="0.60" height="5.60" fill="#7893f8" stroke="none" stroke-width="1" />
<rect x="581.71" y="35.00" width="0.60" height="5.60" fill="#7893f8" stroke="none" stroke-width="1" />
<rect x="582.42" y="35.00" width="0.60" height="5.60" fill="#7893f8" stroke="none" stroke-width="1" />
<rect x="583.14" y="35.00" width="0.60" height="5.60" fill="#7893f8" stroke="none" stroke-width="1" />
<rect x="583.85" y="35.00" width="0.60" height="5.60" fill="#7893f8" stroke="none" stroke-width="1" />
<rect x="584.56" y="35.00" width="0.60" height="5.60" fill="#7893f8" stroke="none" stroke-width="1" />
<rect x="585.27" y="35.00" width="0.60" height="5.60" fill="#7893f8" stroke="none" stroke-width="1" />
<rect x="585.99" y="35.00" width="0.60" height="5.60" fill="#7893f8" stroke="none" stroke-width="1" />
<rect x="586.70" y="35.00" width="0.60" height="5.60" fill="#7893f8" stroke="none" stroke-width="1" />
<rect x="587.41" y="35.00" width="0.60" height="5.60" fill="#7893f8" stroke="none" stroke-width="1" />
<rect x="588.12" y="69.70" width="0.60" height="5.60" fill="#f7a860" stroke="none" stroke-width="1" />
<rect x="588.84" y="35.00" width="0.60" height="5.60" fill="#7893f8" stroke="none" stroke-width="1" />
<rect x="589.55" y="35.00" width="0.60" height="5.60" fill="#7893f8" stroke="none" stroke-width="1" />
<rect x="590.26" y="35.00" width="0.60" height="5.60" fill="#7893f8" stroke="none" stroke-width="1" />
<rect x="590.97" y="35.00" width="0.60" height="5.60" fill="#7893f8" stroke="none" stroke-width="1" />
<rect x="591.69" y="35.00" width="0.60" height="5.60" fill="#7893f8" stroke="none" stroke-width="1" />
<rect x="592.40" y="35.00" width="0.60" height="5.60" fill="#7893f8" stroke="none" stroke-width="1" />
<rect x="593.11" y="69.70" width="0.60" height="5.60" fill="#f7a860" stroke="none" stroke-width="1" />
<rect x="593.82" y="35.00" width="0.60" height="5.60" fill="#7893f8" stroke="none" stroke-width="1" />
<rect x="594.54" y="35.00" width="0.60" height="5.60" fill="#7893f8" stroke="none" stroke-width="1" />
<rect x="595.25" y="35.00" width="0.60" height="5.60" fill="#7893f8" stroke="none" stroke-width="1" />
<rect x="595.96" y="69.70" width="0.60" height="5.60" fill="#f7a860" stroke="none" stroke-width="1" />
<rect x="596.67" y="35.00" width="0.60" height="5.60" fill="#7893f8" stroke="none" stroke-width="1" />
<rect x="597.39" y="35.00" width="0.60" height="5.60" fill="#7893f8" stroke="none" stroke-width="1" />
<rect x="598.10" y="69.70" width="0.60" height="5.60" fill="#f7a860" stroke="none" stroke-width="1" />
<rect x="598.81" y="35.00" width="0.60" height="5.60" fill="#7893f8" stroke="none" stroke-width="1" />
<rect x="599.52" y="35.00" width="0.60" height="5.60" fill="#7893f8" stroke="none" stroke-width="1" />
<rect x="600.24" y="35.00" width="0.60" height="5.60" fill="#7893f8" stroke="none" stroke-width="1" />
<rect x="600.95" y="35.00" width="0.60" height="5.60" fill="#7893f8" stroke="none" stroke-width="1" />
<rect x="601.66" y="35.00" width="0.60" height="5.60" fill="#7893f8" stroke="none" stroke-width="1" />
<rect x="602.38" y="35.00" width="0.60" height="5.60" fill="#7893f8" stroke="none" stroke-width="1" />
<rect x="603.09" y="35.00" width="0.60" height="5.60" fill="#7893f8" stroke="none" stroke-width="1" />
<rect x="603.80" y="35.00" width="0.60" height="5.60" fill="#7893f8" stroke="none" stroke-width="1" />
<rect x="604.51" y="35.00" width="0.60" height="5.60" fill="#7893f8" stroke="none" stroke-width="1" />
<rect x="605.22" y="35.00" width="0.60" height="5.60" fill="#7893f8" stroke="none" stroke-width="1" />
<rect x="605.94" y="35.00" width="0.60" height="5.60" fill="#7893f8" stroke="none" stroke-width="1" />
<rect x="606.65" y="35.00" width="0.60" height="5.60" fill="#7893f8" stroke="none" stroke-width="1" />
<rect x="607.36" y="35.00" width="0.60" height="5.60" fill="#7893f8" stroke="none" stroke-width="1" />
<rect x="608.07" y="35.00" width="0.60" height="5.60" fill="#7893f8" stroke="none" stroke-width="1" />
<rect x="608.79" y="35.00" width="0.60" height="5.60" fill="#7893f8" stroke="none" stroke-width="1" />
<rect x="609.50" y="69.70" width="0.60" height="5.60" fill="#f7a860" stroke="none" stroke-width="1" />
<rect x="610.21" y="35.00" width="0.60" height="5.60" fill="#7893f8" stroke="none" stroke-width="1" />
<rect x="610.92" y="35.00" width="0.60" height="5.60" fill="#7893f8" stroke="none" stroke-width="1" />
<rect x="611.64" y="69.70" width="0.60" height="5.60" fill="#f7a860" stroke="none" stroke-width="1" />
<rect x="612.35" y="35.00" width="0.60" height="5.60" fill="#7893f8" stroke="none" stroke-width="1" />
<rect x="613.06" y="35.00" width="0.60" height="5.60" fill="#7893f8" stroke="none" stroke-width="1" />
<rect x="613.77" y="69.70" width="0.60" height="5.60" fill="#f7a860" stroke="none" stroke-width="1" />
<rect x="614.49" y="35.00" width="0.60" height="5.60" fill="#7893f8" stroke="none" stroke-width="1" />
<rect x="615.20" y="35.00" width="0.60" height="5.60" fill="#7893f8" stroke="none" stroke-width="1" />
<rect x="615.91" y="35.00" width="0.60" height="5.60" fill="#7893f8" stroke="none" stroke-width="1" />
<rect x="616.62" y="35.00" width="0.60" height="5.60" fill="#7893f8" stroke="none" stroke-width="1" />
<rect x="617.34" y="69.70" width="0.60" height="5.60" fill="#f7a860" stroke="none" stroke-width="1" />
<rect x="618.05" y="69.70" width="0.60" height="5.60" fill="#f7a860" stroke="none" stroke-width="1" />
<rect x="618.76" y="35.00" width="0.60" height="5.60" fill="#7893f8" stroke="none" stroke-width="1" />
<rect x="619.47" y="35.00" width="0.60" height="5.60" fill="#7893f8" stroke="none" stroke-width="1" />
<rect x="620.19" y="35.00" width="0.60" height="5.60" fill="#7893f8" stroke="none" stroke-width="1" />
<rect x="620.90" y="69.70" width="0.60" height="5.60" fill="#f7a860" stroke="none" stroke-width="1" />
<rect x="621.61" y="35.00" width="0.60" height="5.60" fill="#7893f8" stroke="none" stroke-width="1" />
<rect x="622.32" y="35.00" width="0.60" height="5.60" fill="#7893f8" stroke="none" stroke-width="1" />
<rect x="623.04" y="35.00" width="0.60" height="5.60" fill="#7893f8" stroke="none" stroke-width="1" />
<path d="M481.90,48.40 C482.75,50.42 485.12,60.82 487.00,60.50 C488.88,60.18 491.23,46.27 493.20,46.50 C495.17,46.73 497.12,60.45 498.80,61.90 C500.48,63.35 501.80,55.25 503.30,55.20 C504.80,55.15 506.30,61.60 507.80,61.60 C509.30,61.60 510.80,55.08 512.30,55.20 C513.80,55.32 515.15,63.37 516.80,62.30 C518.45,61.23 520.62,50.65 522.20,48.80 C523.78,46.95 524.72,51.45 526.30,51.20 C527.88,50.95 530.38,47.57 531.70,47.30 C533.02,47.03 533.03,46.55 534.20,49.60 C535.37,52.65 537.02,64.95 538.70,65.60 C540.38,66.25 542.80,55.37 544.30,53.50 C545.80,51.63 546.28,55.90 547.70,54.40 C549.12,52.90 550.63,46.15 552.80,44.50 C554.97,42.85 558.63,43.85 560.70,44.50 C562.77,45.15 563.80,48.37 565.20,48.40 C566.60,48.43 567.80,44.70 569.10,44.70 C570.40,44.70 571.50,48.47 573.00,48.40 C574.50,48.33 576.50,44.95 578.10,44.30 C579.70,43.65 581.10,43.87 582.60,44.50 C584.10,45.13 585.78,47.63 587.10,48.10 C588.42,48.57 589.10,46.73 590.50,47.30 C591.90,47.87 593.45,52.12 595.50,51.50 C597.55,50.88 601.02,44.67 602.80,43.60 C604.58,42.53 604.88,43.83 606.20,45.10 C607.52,46.37 609.38,50.18 610.70,51.20 C612.02,52.22 612.70,50.67 614.10,51.20 C615.50,51.73 617.52,55.37 619.10,54.40 C620.68,53.43 622.85,46.90 623.60,45.40" fill="none" stroke="#333" stroke-width="0.9" />
<line x1="481.20" y1="78.10" x2="623.70" y2="78.10" stroke="#444" stroke-width="0.9" />
<line x1="481.20" y1="78.10" x2="481.20" y2="80.40" stroke="#444" stroke-width="0.9" />
<text x="481.20" y="86.80" font-size="7.9" text-anchor="middle" fill="#231f20" font-weight="normal" stroke="#231f20" stroke-width="0.185" >0</text>
<line x1="509.70" y1="78.10" x2="509.70" y2="80.40" stroke="#444" stroke-width="0.9" />
<text x="509.70" y="86.80" font-size="7.9" text-anchor="middle" fill="#231f20" font-weight="normal" stroke="#231f20" stroke-width="0.185" >40</text>
<line x1="538.20" y1="78.10" x2="538.20" y2="80.40" stroke="#444" stroke-width="0.9" />
<text x="538.20" y="86.80" font-size="7.9" text-anchor="middle" fill="#231f20" font-weight="normal" stroke="#231f20" stroke-width="0.185" >80</text>
<line x1="566.70" y1="78.10" x2="566.70" y2="80.40" stroke="#444" stroke-width="0.9" />
<text x="566.70" y="86.80" font-size="7.9" text-anchor="middle" fill="#231f20" font-weight="normal" stroke="#231f20" stroke-width="0.185" >120</text>
<line x1="595.20" y1="78.10" x2="595.20" y2="80.40" stroke="#444" stroke-width="0.9" />
<text x="595.20" y="86.80" font-size="7.9" text-anchor="middle" fill="#231f20" font-weight="normal" stroke="#231f20" stroke-width="0.185" >160</text>
<line x1="623.70" y1="78.10" x2="623.70" y2="80.40" stroke="#444" stroke-width="0.9" />
<text x="623.70" y="86.80" font-size="7.9" text-anchor="middle" fill="#231f20" font-weight="normal" stroke="#231f20" stroke-width="0.185" >200</text>
<text x="552.90" y="96.40" font-size="6.9" text-anchor="middle" fill="#231f20" font-weight="normal" stroke="#231f20" stroke-width="0.161" >Trials</text>
<text transform="translate(473.40,51.20) rotate(-90)" font-size="8.7" text-anchor="middle" fill="#231f20" font-weight="normal" stroke="#231f20" stroke-width="0.204">Choice behavior</text>
<line x1="481.50" y1="15.80" x2="509.60" y2="15.80" stroke="#555" stroke-width="0.8" />
<line x1="481.50" y1="14.60" x2="481.50" y2="17.00" stroke="#555" stroke-width="0.8" />
<line x1="509.60" y1="14.60" x2="509.60" y2="17.00" stroke="#555" stroke-width="0.8" />
<line x1="567.60" y1="15.80" x2="623.70" y2="15.80" stroke="#555" stroke-width="0.8" />
<line x1="567.60" y1="14.60" x2="567.60" y2="17.00" stroke="#555" stroke-width="0.8" />
<line x1="623.70" y1="14.60" x2="623.70" y2="17.00" stroke="#555" stroke-width="0.8" />
<text x="495.80" y="12.60" font-size="9.5" text-anchor="middle" fill="#333" font-weight="normal" stroke="#333" stroke-width="0.222" >Early</text>
<text x="595.40" y="12.60" font-size="9.5" text-anchor="middle" fill="#333" font-weight="normal" stroke="#333" stroke-width="0.222" >Late</text>
<rect x="630.70" y="18.40" width="6.50" height="5.60" fill="#1576ea" stroke="none" stroke-width="1" />
<rect x="630.70" y="24.00" width="6.50" height="5.40" fill="#ff8c00" stroke="none" stroke-width="1" />
<rect x="630.70" y="18.40" width="6.50" height="11.00" fill="none" stroke="#888" stroke-width="0.5" />
<text x="640.60" y="22.60" font-size="5.2" text-anchor="start" fill="#444" font-weight="normal" stroke="#444" stroke-width="0.122" >1</text>
<text x="640.60" y="28.20" font-size="5.2" text-anchor="start" fill="#444" font-weight="normal" stroke="#444" stroke-width="0.122" >0</text>
<line x1="625.40" y1="47.60" x2="625.40" y2="52.80" stroke="#7893f8" stroke-width="0.7" />
<line x1="625.40" y1="56.20" x2="625.40" y2="61.50" stroke="#f7a860" stroke-width="0.7" />
<line x1="622.30" y1="67.20" x2="628.20" y2="67.20" stroke="#333" stroke-width="0.8" />
<text x="631.90" y="52.30" font-size="5.8" text-anchor="start" fill="#444" font-weight="normal" stroke="#444" stroke-width="0.136" >Correct choice</text>
<text x="631.90" y="60.50" font-size="5.8" text-anchor="start" fill="#444" font-weight="normal" stroke="#444" stroke-width="0.136" >Incorrect choice</text>
<text x="631.90" y="69.30" font-size="5.8" text-anchor="start" fill="#444" font-weight="normal" stroke="#444" stroke-width="0.136" >5-trial smoothing</text>
<rect x="498.90" y="116.90" width="8.90" height="71.10" fill="#cdd4f8" stroke="none" stroke-width="1" />
<rect x="579.50" y="116.90" width="8.60" height="71.10" fill="#cdd4f8" stroke="none" stroke-width="1" />
<line x1="489.70" y1="116.90" x2="489.70" y2="188.00" stroke="#333" stroke-width="1" />
<line x1="486.90" y1="116.90" x2="489.70" y2="116.90" stroke="#333" stroke-width="1" />
<text x="485.90" y="120.36" font-size="9.6" text-anchor="end" fill="#231f20" font-weight="normal" stroke="#231f20" stroke-width="0.225" >1.0</text>
<line x1="486.90" y1="136.70" x2="489.70" y2="136.70" stroke="#333" stroke-width="1" />
<text x="485.90" y="140.16" font-size="9.6" text-anchor="end" fill="#231f20" font-weight="normal" stroke="#231f20" stroke-width="0.225" >0.5</text>
<line x1="486.90" y1="156.50" x2="489.70" y2="156.50" stroke="#333" stroke-width="1" />
<text x="485.90" y="159.96" font-size="9.6" text-anchor="end" fill="#231f20" font-weight="normal" stroke="#231f20" stroke-width="0.225" >0.0</text>
<line x1="486.90" y1="176.30" x2="489.70" y2="176.30" stroke="#333" stroke-width="1" />
<text x="485.90" y="179.76" font-size="9.6" text-anchor="end" fill="#231f20" font-weight="normal" stroke="#231f20" stroke-width="0.225" >-0.5</text>
<line x1="487.70" y1="126.80" x2="489.70" y2="126.80" stroke="#333" stroke-width="1" />
<line x1="487.70" y1="146.60" x2="489.70" y2="146.60" stroke="#333" stroke-width="1" />
<line x1="487.70" y1="166.40" x2="489.70" y2="166.40" stroke="#333" stroke-width="1" />
<line x1="487.70" y1="186.20" x2="489.70" y2="186.20" stroke="#333" stroke-width="1" />
<line x1="489.70" y1="188.00" x2="595.50" y2="188.00" stroke="#333" stroke-width="1" />
<line x1="503.30" y1="188.00" x2="503.30" y2="190.60" stroke="#333" stroke-width="1" />
<text x="503.30" y="199.20" font-size="9.4" text-anchor="middle" fill="#231f20" font-weight="normal" stroke="#231f20" stroke-width="0.220" >A1</text>
<line x1="523.30" y1="188.00" x2="523.30" y2="190.60" stroke="#333" stroke-width="1" />
<text x="523.30" y="199.20" font-size="9.4" text-anchor="middle" fill="#231f20" font-weight="normal" stroke="#231f20" stroke-width="0.220" >A2</text>
<line x1="543.40" y1="188.00" x2="543.40" y2="190.60" stroke="#333" stroke-width="1" />
<text x="543.40" y="199.20" font-size="9.4" text-anchor="middle" fill="#231f20" font-weight="normal" stroke="#231f20" stroke-width="0.220" >A3</text>
<line x1="563.50" y1="188.00" x2="563.50" y2="190.60" stroke="#333" stroke-width="1" />
<text x="563.50" y="199.20" font-size="9.4" text-anchor="middle" fill="#231f20" font-weight="normal" stroke="#231f20" stroke-width="0.220" >A4</text>
<line x1="583.90" y1="188.00" x2="583.90" y2="190.60" stroke="#333" stroke-width="1" />
<text x="583.90" y="199.20" font-size="9.4" text-anchor="middle" fill="#231f20" font-weight="normal" stroke="#231f20" stroke-width="0.220" >A5</text>
<line x1="489.70" y1="156.50" x2="597.00" y2="156.50" stroke="#777" stroke-width="0.8" stroke-dasharray="3,2"/>
<polyline points="503.30,144.62 523.30,144.62 543.40,135.51 563.50,124.82 583.90,130.76" fill="none" stroke="#c6c6c6" stroke-width="0.7" />
<polyline points="503.30,146.20 523.30,139.87 543.40,140.66 563.50,128.38 583.90,131.16" fill="none" stroke="#c6c6c6" stroke-width="0.7" />
<polyline points="503.30,148.58 523.30,147.00 543.40,137.89 563.50,130.76 583.90,130.36" fill="none" stroke="#c6c6c6" stroke-width="0.7" />
<polyline points="503.30,147.79 523.30,150.16 543.40,150.16 563.50,142.24 583.90,131.95" fill="none" stroke="#c6c6c6" stroke-width="0.7" />
<polyline points="503.30,158.08 523.30,151.75 543.40,156.50 563.50,152.54 583.90,131.16" fill="none" stroke="#c6c6c6" stroke-width="0.7" />
<polyline points="503.30,172.34 523.30,158.08 543.40,150.16 563.50,166.80 583.90,133.93" fill="none" stroke="#c6c6c6" stroke-width="0.7" />
<polyline points="503.30,174.32 523.30,166.00 543.40,162.04 563.50,137.10 583.90,129.18" fill="none" stroke="#c6c6c6" stroke-width="0.7" />
<polyline points="503.30,182.24 523.30,162.84 543.40,156.50 563.50,156.50 583.90,125.22" fill="none" stroke="#c6c6c6" stroke-width="0.7" />
<polyline points="503.30,144.22 523.30,144.22 543.40,144.62 563.50,144.62 583.90,131.16" fill="none" stroke="#c6c6c6" stroke-width="0.7" />
<polyline points="503.30,150.16 523.30,141.45 543.40,135.51 563.50,133.14 583.90,131.16" fill="none" stroke="#c6c6c6" stroke-width="0.7" />
<line x1="503.30" y1="154.52" x2="503.30" y2="162.44" stroke="#222" stroke-width="0.8" />
<line x1="502.00" y1="154.52" x2="504.60" y2="154.52" stroke="#222" stroke-width="0.8" />
<line x1="502.00" y1="162.44" x2="504.60" y2="162.44" stroke="#222" stroke-width="0.8" />
<line x1="523.30" y1="148.18" x2="523.30" y2="151.35" stroke="#222" stroke-width="0.8" />
<line x1="522.00" y1="148.18" x2="524.60" y2="148.18" stroke="#222" stroke-width="0.8" />
<line x1="522.00" y1="151.35" x2="524.60" y2="151.35" stroke="#222" stroke-width="0.8" />
<line x1="543.40" y1="142.44" x2="543.40" y2="146.01" stroke="#222" stroke-width="0.8" />
<line x1="542.10" y1="142.44" x2="544.70" y2="142.44" stroke="#222" stroke-width="0.8" />
<line x1="542.10" y1="146.01" x2="544.70" y2="146.01" stroke="#222" stroke-width="0.8" />
<line x1="563.50" y1="136.70" x2="563.50" y2="141.45" stroke="#222" stroke-width="0.8" />
<line x1="562.20" y1="136.70" x2="564.80" y2="136.70" stroke="#222" stroke-width="0.8" />
<line x1="562.20" y1="141.45" x2="564.80" y2="141.45" stroke="#222" stroke-width="0.8" />
<line x1="583.90" y1="130.76" x2="583.90" y2="131.55" stroke="#222" stroke-width="0.8" />
<line x1="582.60" y1="130.76" x2="585.20" y2="130.76" stroke="#222" stroke-width="0.8" />
<line x1="582.60" y1="131.55" x2="585.20" y2="131.55" stroke="#222" stroke-width="0.8" />
<polyline points="503.30,158.48 523.30,149.77 543.40,144.22 563.50,139.08 583.90,131.16" fill="none" stroke="#1c1c1c" stroke-width="1.3" />
<circle cx="583.90" cy="131.16" r="1.3" fill="#1c1c2c" stroke="none" stroke-width="1" />
<text x="514.60" y="113.60" font-size="8.1" text-anchor="start" fill="#bdbdbd" font-weight="normal" stroke="#bdbdbd" stroke-width="0.190" >Individual mice</text>
<text x="514.60" y="124.10" font-size="7.95" text-anchor="start" fill="#222" font-weight="bold"  >Average</text>
<text transform="translate(595.60,135.50) rotate(-90)" font-size="6.6" text-anchor="middle" fill="#7a7a7a" font-weight="normal" stroke="#7a7a7a" stroke-width="0.154">Correct</text>
<text transform="translate(595.60,172.20) rotate(-90)" font-size="6.6" text-anchor="middle" fill="#7a7a7a" font-weight="normal" stroke="#7a7a7a" stroke-width="0.154">Incorrect</text>
<text transform="translate(468.00,151.20) rotate(-90)" font-size="8.5" text-anchor="middle" fill="#231f20" font-weight="normal" stroke="#231f20" stroke-width="0.199">Selectivity index</text>
<line x1="637.90" y1="117.00" x2="637.90" y2="187.00" stroke="#555" stroke-width="1.3" />
<line x1="635.10" y1="187.00" x2="637.90" y2="187.00" stroke="#555" stroke-width="1.3" />
<text x="634.10" y="190.46" font-size="9.6" text-anchor="end" fill="#231f20" font-weight="normal" stroke="#231f20" stroke-width="0.225" >0</text>
<line x1="635.10" y1="173.00" x2="637.90" y2="173.00" stroke="#555" stroke-width="1.3" />
<text x="634.10" y="176.46" font-size="9.6" text-anchor="end" fill="#231f20" font-weight="normal" stroke="#231f20" stroke-width="0.225" >20</text>
<line x1="635.10" y1="159.00" x2="637.90" y2="159.00" stroke="#555" stroke-width="1.3" />
<text x="634.10" y="162.46" font-size="9.6" text-anchor="end" fill="#231f20" font-weight="normal" stroke="#231f20" stroke-width="0.225" >40</text>
<line x1="635.10" y1="145.00" x2="637.90" y2="145.00" stroke="#555" stroke-width="1.3" />
<text x="634.10" y="148.46" font-size="9.6" text-anchor="end" fill="#231f20" font-weight="normal" stroke="#231f20" stroke-width="0.225" >60</text>
<line x1="635.10" y1="131.00" x2="637.90" y2="131.00" stroke="#555" stroke-width="1.3" />
<text x="634.10" y="134.46" font-size="9.6" text-anchor="end" fill="#231f20" font-weight="normal" stroke="#231f20" stroke-width="0.225" >80</text>
<line x1="635.10" y1="117.00" x2="637.90" y2="117.00" stroke="#555" stroke-width="1.3" />
<text x="634.10" y="120.46" font-size="9.6" text-anchor="end" fill="#231f20" font-weight="normal" stroke="#231f20" stroke-width="0.225" >100</text>
<line x1="637.90" y1="187.00" x2="685.00" y2="187.00" stroke="#555" stroke-width="1.3" />
<line x1="651.10" y1="187.00" x2="651.10" y2="189.60" stroke="#333" stroke-width="1" />
<text x="651.10" y="199.20" font-size="9.4" text-anchor="middle" fill="#231f20" font-weight="normal" stroke="#231f20" stroke-width="0.220" >A1</text>
<line x1="671.40" y1="187.00" x2="671.40" y2="189.60" stroke="#333" stroke-width="1" />
<text x="671.40" y="199.20" font-size="9.4" text-anchor="middle" fill="#231f20" font-weight="normal" stroke="#231f20" stroke-width="0.220" >A5</text>
<line x1="651.10" y1="141.50" x2="651.10" y2="145.00" stroke="#555" stroke-width="0.9" />
<line x1="651.10" y1="166.00" x2="651.10" y2="175.10" stroke="#555" stroke-width="0.9" />
<line x1="648.10" y1="141.50" x2="654.10" y2="141.50" stroke="#555" stroke-width="0.9" />
<line x1="648.10" y1="175.10" x2="654.10" y2="175.10" stroke="#555" stroke-width="0.9" />
<rect x="644.20" y="145.00" width="13.80" height="21.00" fill="none" stroke="#555" stroke-width="0.9" />
<line x1="644.20" y1="152.00" x2="658.00" y2="152.00" stroke="#555" stroke-width="0.9" />
<circle cx="651.10" cy="141.50" r="1.6" fill="#fff" stroke="#444" stroke-width="0.8" />
<circle cx="651.10" cy="143.60" r="1.6" fill="#fff" stroke="#444" stroke-width="0.8" />
<circle cx="651.10" cy="146.40" r="1.6" fill="#fff" stroke="#444" stroke-width="0.8" />
<circle cx="651.10" cy="152.00" r="1.6" fill="#fff" stroke="#444" stroke-width="0.8" />
<circle cx="651.10" cy="153.40" r="1.6" fill="#fff" stroke="#444" stroke-width="0.8" />
<circle cx="651.10" cy="166.00" r="1.6" fill="#fff" stroke="#444" stroke-width="0.8" />
<circle cx="651.10" cy="168.10" r="1.6" fill="#fff" stroke="#444" stroke-width="0.8" />
<circle cx="651.10" cy="175.10" r="1.6" fill="#fff" stroke="#444" stroke-width="0.8" />
<line x1="671.40" y1="124.00" x2="671.40" y2="129.60" stroke="#1a7fff" stroke-width="1.0" />
<line x1="668.40" y1="124.00" x2="674.40" y2="124.00" stroke="#1a7fff" stroke-width="1.0" />
<rect x="665.30" y="129.25" width="12.30" height="1.60" fill="#1a7fff" stroke="none" stroke-width="1" />
<circle cx="671.40" cy="124.00" r="1.6" fill="#fff" stroke="#444" stroke-width="0.8" />
<circle cx="671.40" cy="128.90" r="1.6" fill="#fff" stroke="#444" stroke-width="0.8" />
<circle cx="671.40" cy="130.30" r="1.6" fill="#fff" stroke="#444" stroke-width="0.8" />
<polyline points="651.10,138.20 651.10,115.80 671.40,115.80 671.40,120.60" fill="none" stroke="#333" stroke-width="0.8" />
<path d="M657.38,110.30L657.38,113.30M658.67,111.05L656.08,112.55M658.67,112.55L656.08,111.05" fill="none" stroke="#111" stroke-width="0.9" stroke-linecap="round"/>
<circle cx="657.38" cy="111.80" r="0.675" fill="#111" stroke="none" stroke-width="1" />
<path d="M660.12,110.30L660.12,113.30M661.42,111.05L658.83,112.55M661.42,112.55L658.83,111.05" fill="none" stroke="#111" stroke-width="0.9" stroke-linecap="round"/>
<circle cx="660.12" cy="111.80" r="0.675" fill="#111" stroke="none" stroke-width="1" />
<path d="M662.88,110.30L662.88,113.30M664.17,111.05L661.58,112.55M664.17,112.55L661.58,111.05" fill="none" stroke="#111" stroke-width="0.9" stroke-linecap="round"/>
<circle cx="662.88" cy="111.80" r="0.675" fill="#111" stroke="none" stroke-width="1" />
<path d="M665.62,110.30L665.62,113.30M666.92,111.05L664.33,112.55M666.92,112.55L664.33,111.05" fill="none" stroke="#111" stroke-width="0.9" stroke-linecap="round"/>
<circle cx="665.62" cy="111.80" r="0.675" fill="#111" stroke="none" stroke-width="1" />
<text transform="translate(615.60,149.60) rotate(-90)" font-size="8.8" text-anchor="middle" fill="#231f20" font-weight="normal" stroke="#231f20" stroke-width="0.206">% correct</text>
<polyline points="244.00,53.80 263.60,65.70" fill="none" stroke="#333" stroke-width="1.1" />
<polyline points="263.60,65.70 290.30,81.30" fill="none" stroke="#f7a035" stroke-width="1.1" />
<line x1="290.30" y1="81.00" x2="290.30" y2="154.60" stroke="#2bb673" stroke-width="1.1" />
<line x1="290.30" y1="154.60" x2="290.30" y2="164.80" stroke="#ec3f97" stroke-width="1.1" />
<polyline points="296.00,164.80 296.00,80.00 246.60,51.00 257.10,32.20 306.00,61.30 355.30,32.40 364.50,51.20 317.20,80.00 317.20,164.80 296.00,164.80" fill="none" stroke="#2b2b2b" stroke-width="1.2" stroke-linejoin="miter"/>
<rect x="296.00" y="164.80" width="21.20" height="19.40" fill="none" stroke="#c4c4c4" stroke-width="0.9" />
<line x1="306.60" y1="73.50" x2="306.60" y2="164.80" stroke="#8a8a8a" stroke-width="0.8" />
<polygon points="258.00,36.80 274.60,46.40 267.60,59.10 251.00,49.50" fill="#231f20" stroke="none" stroke-width="1" />
<polygon points="337.90,46.50 355.30,36.20 362.40,49.00 345.60,59.70" fill="none" stroke="#333" stroke-width="0.8" stroke-dasharray="1.6,1.1"/>
<path d="M350.6,42.6 C352.2,45.3 354.4,47.2 354.4,49.9 C354.4,52.2 352.7,53.8 350.6,53.8 C348.5,53.8 346.8,52.2 346.8,49.9 C346.8,47.2 349.0,45.3 350.6,42.6 Z" fill="#27a4e2" stroke="none" stroke-width="1" />
<line x1="304.80" y1="72.60" x2="277.50" y2="57.00" stroke="#555" stroke-width="0.8" stroke-dasharray="2,1.6"/>
<polygon points="273.70,55.60 279.60,56.10 277.30,59.90" fill="#444" stroke="none" stroke-width="1" />
<line x1="308.00" y1="72.60" x2="335.80" y2="56.50" stroke="#777" stroke-width="0.8" />
<polygon points="339.50,54.40 336.80,59.30 334.50,55.30" fill="#555" stroke="none" stroke-width="1" />
<line x1="318.00" y1="80.40" x2="333.60" y2="80.40" stroke="#999" stroke-width="0.8" stroke-dasharray="1,0.8"/>
<text x="335.00" y="83.50" font-size="8.0" text-anchor="start" fill="#333" font-weight="normal" stroke="#333" stroke-width="0.187" >280 cm</text>
<line x1="318.00" y1="123.60" x2="333.60" y2="123.60" stroke="#999" stroke-width="0.8" stroke-dasharray="1,0.8"/>
<text x="335.00" y="126.70" font-size="8.0" text-anchor="start" fill="#333" font-weight="normal" stroke="#333" stroke-width="0.187" >140 cm</text>
<line x1="318.00" y1="164.80" x2="333.60" y2="164.80" stroke="#999" stroke-width="0.8" stroke-dasharray="1,0.8"/>
<text x="335.00" y="167.90" font-size="8.0" text-anchor="start" fill="#333" font-weight="normal" stroke="#333" stroke-width="0.187" >0 cm</text>
<path d="M306.6,168.5 C309.6,168.5 310.4,171.5 310.2,175 C310,178.5 308.6,181 306.6,181 C304.6,181 303.2,178.5 303.0,175 C302.8,171.5 303.6,168.5 306.6,168.5 Z" fill="#8c8c8c" stroke="none" stroke-width="1" />
<circle cx="304.80" cy="168.60" r="1.1" fill="#8c8c8c" stroke="none" stroke-width="1" />
<circle cx="308.40" cy="168.60" r="1.1" fill="#8c8c8c" stroke="none" stroke-width="1" />
<path d="M306.6,181 C307.5,183 309.5,183.5 311.5,182.5" fill="none" stroke="#8c8c8c" stroke-width="0.6" />
<text x="258.00" y="23.70" font-size="9.3" text-anchor="start" fill="#231f20" font-weight="normal" stroke="#231f20" stroke-width="0.218" >No reward</text>
<text x="322.90" y="23.70" font-size="9.3" text-anchor="start" fill="#231f20" font-weight="normal" stroke="#231f20" stroke-width="0.218" >Reward</text>
<text x="258.90" y="99.80" font-size="9.4" text-anchor="middle" fill="#333" font-weight="normal" stroke="#333" stroke-width="0.220" >Outcome</text>
<text x="258.90" y="113.30" font-size="9.4" text-anchor="middle" fill="#f7a035" font-weight="normal" stroke="#f7a035" stroke-width="0.220" >Pre-outcome</text>
<text x="258.90" y="127.00" font-size="9.4" text-anchor="middle" fill="#27b06a" font-weight="normal" stroke="#27b06a" stroke-width="0.220" >Stem zone</text>
<text x="258.90" y="140.70" font-size="9.4" text-anchor="middle" fill="#ec4a9c" font-weight="normal" stroke="#ec4a9c" stroke-width="0.220" >Start zone</text>
<clipPath id="vc1"><rect x="373.6" y="16.80" width="66.4" height="36.00"/></clipPath>
<rect x="373.60" y="16.80" width="66.40" height="36.00" fill="#000" stroke="none" stroke-width="1" />
<g clip-path="url(#vc1)">
<polygon points="373.60,18.90 399.20,34.00 399.20,43.60 373.60,52.50" fill="#eeeeee" stroke="none" stroke-width="1" />
<polygon points="411.60,34.00 426.20,26.00 433.00,27.50 440.00,26.50 440.00,52.50 411.60,43.60" fill="#e8e8e8" stroke="none" stroke-width="1" />
<rect x="399.20" y="33.20" width="12.40" height="11.00" fill="#8a8a8a" stroke="none" stroke-width="1" />
<circle cx="405.40" cy="38.80" r="3.4" fill="#000" stroke="none" stroke-width="1" />
<ellipse cx="376.60" cy="25.90" rx="1.84" ry="3.10" fill="#111"/>
<ellipse cx="376.60" cy="36.06" rx="1.84" ry="3.10" fill="#111"/>
<ellipse cx="376.60" cy="46.22" rx="1.84" ry="3.10" fill="#111"/>
<ellipse cx="381.00" cy="27.80" rx="1.52" ry="2.56" fill="#111"/>
<ellipse cx="381.00" cy="36.60" rx="1.52" ry="2.56" fill="#111"/>
<ellipse cx="381.00" cy="45.39" rx="1.52" ry="2.56" fill="#111"/>
<ellipse cx="384.80" cy="29.43" rx="1.28" ry="2.16" fill="#111"/>
<ellipse cx="384.80" cy="37.06" rx="1.28" ry="2.16" fill="#111"/>
<ellipse cx="384.80" cy="44.68" rx="1.28" ry="2.16" fill="#111"/>
<ellipse cx="388.00" cy="30.81" rx="1.08" ry="1.82" fill="#111"/>
<ellipse cx="388.00" cy="37.44" rx="1.08" ry="1.82" fill="#111"/>
<ellipse cx="388.00" cy="44.08" rx="1.08" ry="1.82" fill="#111"/>
<ellipse cx="390.90" cy="32.06" rx="0.92" ry="1.55" fill="#111"/>
<ellipse cx="390.90" cy="37.79" rx="0.92" ry="1.55" fill="#111"/>
<ellipse cx="390.90" cy="43.53" rx="0.92" ry="1.55" fill="#111"/>
<ellipse cx="393.40" cy="33.14" rx="0.76" ry="1.28" fill="#111"/>
<ellipse cx="393.40" cy="38.10" rx="0.76" ry="1.28" fill="#111"/>
<ellipse cx="393.40" cy="43.06" rx="0.76" ry="1.28" fill="#111"/>
<ellipse cx="395.60" cy="34.08" rx="0.64" ry="1.08" fill="#111"/>
<ellipse cx="395.60" cy="38.36" rx="0.64" ry="1.08" fill="#111"/>
<ellipse cx="395.60" cy="42.65" rx="0.64" ry="1.08" fill="#111"/>
<ellipse cx="397.60" cy="34.94" rx="0.52" ry="0.88" fill="#111"/>
<ellipse cx="397.60" cy="38.61" rx="0.52" ry="0.88" fill="#111"/>
<ellipse cx="397.60" cy="42.27" rx="0.52" ry="0.88" fill="#111"/>
<ellipse cx="437.40" cy="33.69" rx="1.42" ry="2.47" fill="#111"/>
<ellipse cx="437.40" cy="40.44" rx="1.42" ry="2.47" fill="#111"/>
<ellipse cx="437.40" cy="47.86" rx="1.42" ry="2.47" fill="#111"/>
<ellipse cx="433.40" cy="34.28" rx="1.20" ry="2.08" fill="#111"/>
<ellipse cx="433.40" cy="40.34" rx="1.20" ry="2.08" fill="#111"/>
<ellipse cx="433.40" cy="47.00" rx="1.20" ry="2.08" fill="#111"/>
<ellipse cx="429.80" cy="34.82" rx="1.01" ry="1.76" fill="#111"/>
<ellipse cx="429.80" cy="40.25" rx="1.01" ry="1.76" fill="#111"/>
<ellipse cx="429.80" cy="46.22" rx="1.01" ry="1.76" fill="#111"/>
<ellipse cx="426.50" cy="35.31" rx="0.86" ry="1.49" fill="#111"/>
<ellipse cx="426.50" cy="40.17" rx="0.86" ry="1.49" fill="#111"/>
<ellipse cx="426.50" cy="45.51" rx="0.86" ry="1.49" fill="#111"/>
<ellipse cx="423.60" cy="35.74" rx="0.75" ry="1.30" fill="#111"/>
<ellipse cx="423.60" cy="40.10" rx="0.75" ry="1.30" fill="#111"/>
<ellipse cx="423.60" cy="44.89" rx="0.75" ry="1.30" fill="#111"/>
<ellipse cx="421.00" cy="36.12" rx="0.64" ry="1.10" fill="#111"/>
<ellipse cx="421.00" cy="40.03" rx="0.64" ry="1.10" fill="#111"/>
<ellipse cx="421.00" cy="44.33" rx="0.64" ry="1.10" fill="#111"/>
<ellipse cx="418.60" cy="36.48" rx="0.52" ry="0.91" fill="#111"/>
<ellipse cx="418.60" cy="39.97" rx="0.52" ry="0.91" fill="#111"/>
<ellipse cx="418.60" cy="43.81" rx="0.52" ry="0.91" fill="#111"/>
<ellipse cx="416.60" cy="36.78" rx="0.45" ry="0.78" fill="#111"/>
<ellipse cx="416.60" cy="39.92" rx="0.45" ry="0.78" fill="#111"/>
<ellipse cx="416.60" cy="43.38" rx="0.45" ry="0.78" fill="#111"/>
<ellipse cx="414.60" cy="37.07" rx="0.38" ry="0.65" fill="#111"/>
<ellipse cx="414.60" cy="39.87" rx="0.38" ry="0.65" fill="#111"/>
<ellipse cx="414.60" cy="42.95" rx="0.38" ry="0.65" fill="#111"/>
</g>
<rect x="373.30" y="16.50" width="67.00" height="36.60" fill="none" stroke="#a0a0a0" stroke-width="1.2" />
<text x="403.00" y="25.40" font-size="9.5" text-anchor="start" fill="#e6c01c" font-weight="normal" stroke="#e6c01c" stroke-width="0.222" >320 cm</text>
<clipPath id="vc2"><rect x="373.6" y="60.80" width="66.4" height="36.20"/></clipPath>
<rect x="373.60" y="60.80" width="66.40" height="36.20" fill="#000" stroke="none" stroke-width="1" />
<g clip-path="url(#vc2)">
<polygon points="373.60,63.00 376.00,63.00 377.80,97.50 373.60,97.50" fill="#e0e0e0" stroke="none" stroke-width="1" />
<rect x="377.60" y="80.80" width="62.40" height="8.60" fill="#c8c8c8" stroke="none" stroke-width="1" />
<ellipse cx="381.9" cy="85.3" rx="4.3" ry="2.2" fill="#000"/>
<ellipse cx="432.1" cy="85.3" rx="4.3" ry="2.2" fill="#000"/>
<polygon points="386.70,81.30 405.60,73.20 405.60,89.40 386.70,89.40" fill="#e6e6e6" stroke="none" stroke-width="1" />
<polygon points="407.80,73.20 425.10,80.20 425.10,89.40 407.80,89.40" fill="#e6e6e6" stroke="none" stroke-width="1" />
<rect x="389.50" y="80.00" width="1.20" height="1.20" fill="#555" stroke="none" stroke-width="1" />
<rect x="409.60" y="75.30" width="1.20" height="1.20" fill="#555" stroke="none" stroke-width="1" />
<rect x="392.90" y="78.50" width="1.20" height="1.20" fill="#555" stroke="none" stroke-width="1" />
<rect x="412.80" y="76.60" width="1.20" height="1.20" fill="#555" stroke="none" stroke-width="1" />
<rect x="396.30" y="77.00" width="1.20" height="1.20" fill="#555" stroke="none" stroke-width="1" />
<rect x="416.00" y="77.90" width="1.20" height="1.20" fill="#555" stroke="none" stroke-width="1" />
<rect x="399.70" y="75.50" width="1.20" height="1.20" fill="#555" stroke="none" stroke-width="1" />
<rect x="419.20" y="79.20" width="1.20" height="1.20" fill="#555" stroke="none" stroke-width="1" />
<rect x="403.10" y="74.00" width="1.20" height="1.20" fill="#555" stroke="none" stroke-width="1" />
<rect x="422.40" y="80.50" width="1.20" height="1.20" fill="#555" stroke="none" stroke-width="1" />
<rect x="389.50" y="82.30" width="1.20" height="1.20" fill="#555" stroke="none" stroke-width="1" />
<rect x="409.60" y="78.10" width="1.20" height="1.20" fill="#555" stroke="none" stroke-width="1" />
<rect x="392.90" y="80.80" width="1.20" height="1.20" fill="#555" stroke="none" stroke-width="1" />
<rect x="412.80" y="79.40" width="1.20" height="1.20" fill="#555" stroke="none" stroke-width="1" />
<rect x="396.30" y="79.30" width="1.20" height="1.20" fill="#555" stroke="none" stroke-width="1" />
<rect x="416.00" y="80.70" width="1.20" height="1.20" fill="#555" stroke="none" stroke-width="1" />
<rect x="399.70" y="77.80" width="1.20" height="1.20" fill="#555" stroke="none" stroke-width="1" />
<rect x="419.20" y="82.00" width="1.20" height="1.20" fill="#555" stroke="none" stroke-width="1" />
<rect x="403.10" y="76.30" width="1.20" height="1.20" fill="#555" stroke="none" stroke-width="1" />
<rect x="422.40" y="83.30" width="1.20" height="1.20" fill="#555" stroke="none" stroke-width="1" />
<rect x="389.50" y="84.60" width="1.20" height="1.20" fill="#555" stroke="none" stroke-width="1" />
<rect x="409.60" y="80.90" width="1.20" height="1.20" fill="#555" stroke="none" stroke-width="1" />
<rect x="392.90" y="83.10" width="1.20" height="1.20" fill="#555" stroke="none" stroke-width="1" />
<rect x="412.80" y="82.20" width="1.20" height="1.20" fill="#555" stroke="none" stroke-width="1" />
<rect x="396.30" y="81.60" width="1.20" height="1.20" fill="#555" stroke="none" stroke-width="1" />
<rect x="416.00" y="83.50" width="1.20" height="1.20" fill="#555" stroke="none" stroke-width="1" />
<rect x="399.70" y="80.10" width="1.20" height="1.20" fill="#555" stroke="none" stroke-width="1" />
<rect x="419.20" y="84.80" width="1.20" height="1.20" fill="#555" stroke="none" stroke-width="1" />
<rect x="403.10" y="78.60" width="1.20" height="1.20" fill="#555" stroke="none" stroke-width="1" />
<rect x="422.40" y="86.10" width="1.20" height="1.20" fill="#555" stroke="none" stroke-width="1" />
<rect x="389.50" y="86.90" width="1.20" height="1.20" fill="#555" stroke="none" stroke-width="1" />
<rect x="409.60" y="83.70" width="1.20" height="1.20" fill="#555" stroke="none" stroke-width="1" />
<rect x="392.90" y="85.40" width="1.20" height="1.20" fill="#555" stroke="none" stroke-width="1" />
<rect x="412.80" y="85.00" width="1.20" height="1.20" fill="#555" stroke="none" stroke-width="1" />
<rect x="396.30" y="83.90" width="1.20" height="1.20" fill="#555" stroke="none" stroke-width="1" />
<rect x="416.00" y="86.30" width="1.20" height="1.20" fill="#555" stroke="none" stroke-width="1" />
<rect x="399.70" y="82.40" width="1.20" height="1.20" fill="#555" stroke="none" stroke-width="1" />
<rect x="419.20" y="87.60" width="1.20" height="1.20" fill="#555" stroke="none" stroke-width="1" />
<rect x="403.10" y="80.90" width="1.20" height="1.20" fill="#555" stroke="none" stroke-width="1" />
<rect x="422.40" y="88.90" width="1.20" height="1.20" fill="#555" stroke="none" stroke-width="1" />
<rect x="436.40" y="80.80" width="2.70" height="14.60" fill="#ddd" stroke="none" stroke-width="1" />
<radialGradient id="fog"><stop offset="0" stop-color="#777"/><stop offset="1" stop-color="#000" stop-opacity="0"/></radialGradient>
<circle cx="395.50" cy="72.00" r="6.5" fill="url(#fog)" stroke="none" stroke-width="1" />
<circle cx="414.00" cy="72.50" r="5.0" fill="url(#fog)" stroke="none" stroke-width="1" opacity="0.6"/>
</g>
<rect x="373.30" y="60.50" width="67.00" height="36.80" fill="none" stroke="#a0a0a0" stroke-width="1.2" />
<text x="403.00" y="69.70" font-size="9.5" text-anchor="start" fill="#e6c01c" font-weight="normal" stroke="#e6c01c" stroke-width="0.222" >280 cm</text>
<clipPath id="vc3"><rect x="373.6" y="104.10" width="66.4" height="36.40"/></clipPath>
<rect x="373.60" y="104.10" width="66.40" height="36.40" fill="#000" stroke="none" stroke-width="1" />
<g clip-path="url(#vc3)">
<polygon points="373.60,107.00 380.80,107.00 401.30,124.80 401.30,131.30 387.30,141.50 373.60,141.50" fill="#8f8f8f" stroke="none" stroke-width="1" />
<polygon points="386.20,111.60 393.20,117.70 393.20,135.20 386.20,140.50" fill="#e8e8e8" stroke="none" stroke-width="1" />
<polygon points="396.00,120.10 398.50,122.30 398.50,133.40 396.00,135.00" fill="#d9d9d9" stroke="none" stroke-width="1" />
<polygon points="414.30,122.70 426.00,114.00 440.00,113.00 440.00,141.50 430.50,141.50 414.30,131.30" fill="#c8c8c8" stroke="none" stroke-width="1" />
<polygon points="419.00,119.50 423.00,116.50 423.00,137.20 419.00,134.30" fill="#f0f0f0" stroke="none" stroke-width="1" />
<polygon points="427.00,114.50 436.00,114.00 436.00,141.50 427.00,141.50" fill="#e4e4e4" stroke="none" stroke-width="1" />
<rect x="401.30" y="124.80" width="13.00" height="6.50" fill="#7a7a7a" stroke="none" stroke-width="1" />
<line x1="402.50" y1="126.30" x2="406.50" y2="126.30" stroke="#ccc" stroke-width="0.7" />
<line x1="409.00" y1="126.30" x2="413.20" y2="126.30" stroke="#ccc" stroke-width="0.7" />
<line x1="402.50" y1="128.10" x2="406.50" y2="128.10" stroke="#ccc" stroke-width="0.7" />
<line x1="409.00" y1="128.10" x2="413.20" y2="128.10" stroke="#ccc" stroke-width="0.7" />
<line x1="402.50" y1="129.90" x2="406.50" y2="129.90" stroke="#ccc" stroke-width="0.7" />
<line x1="409.00" y1="129.90" x2="413.20" y2="129.90" stroke="#ccc" stroke-width="0.7" />
<rect x="394.30" y="113.50" width="7.00" height="11.30" fill="#3a3a3a" stroke="none" stroke-width="1" />
<rect x="408.90" y="113.50" width="5.40" height="9.20" fill="#3a3a3a" stroke="none" stroke-width="1" />
<polygon points="421.00,118.00 433.00,116.00 438.00,117.50 430.00,119.50" fill="#f4f4f4" stroke="none" stroke-width="1" />
</g>
<rect x="373.30" y="103.80" width="67.00" height="37.00" fill="none" stroke="#a0a0a0" stroke-width="1.2" />
<text x="402.80" y="112.80" font-size="9.5" text-anchor="start" fill="#e6c01c" font-weight="normal" stroke="#e6c01c" stroke-width="0.222" >140 cm</text>
<clipPath id="vc4"><rect x="373.6" y="147.70" width="66.4" height="36.90"/></clipPath>
<rect x="373.60" y="147.70" width="66.40" height="36.90" fill="#000" stroke="none" stroke-width="1" />
<g clip-path="url(#vc4)">
<polygon points="373.60,150.00 377.60,150.00 404.60,171.60 404.60,173.20 384.00,184.90 373.60,184.90" fill="#e9e9e9" stroke="none" stroke-width="1" />
<polygon points="381.50,154.00 386.00,157.50 386.00,182.00 383.00,183.50 381.50,183.50" fill="#9a9a9a" stroke="none" stroke-width="1" />
<polygon points="391.00,161.50 394.50,164.40 394.50,179.00 391.00,181.00" fill="#cfcfcf" stroke="none" stroke-width="1" />
<polygon points="406.70,171.60 426.20,157.00 440.00,159.00 440.00,184.90 428.30,184.90 406.70,173.20" fill="#e2e2e2" stroke="none" stroke-width="1" />
<polygon points="416.00,164.60 420.00,161.60 420.00,181.50 416.00,179.20" fill="#a8a8a8" stroke="none" stroke-width="1" />
<rect x="392.50" y="156.50" width="5.50" height="9.50" fill="#3c3c3c" stroke="none" stroke-width="1" />
<rect x="406.00" y="157.00" width="5.50" height="10.00" fill="#3c3c3c" stroke="none" stroke-width="1" />
<polygon points="421.00,160.50 433.00,158.50 438.00,160.00 430.00,162.00" fill="#f4f4f4" stroke="none" stroke-width="1" />
</g>
<rect x="373.30" y="147.40" width="67.00" height="37.50" fill="none" stroke="#a0a0a0" stroke-width="1.2" />
<text x="407.80" y="155.90" font-size="9.5" text-anchor="start" fill="#e6c01c" font-weight="normal" stroke="#e6c01c" stroke-width="0.222" >0 cm</text>
<polygon points="120.30,42.80 143.40,35.80 186.00,41.30 202.60,67.70 202.60,76.00 182.30,84.00 182.30,129.50 150.00,114.50 120.30,100.00" fill="#636363" stroke="none" stroke-width="1" />
<line x1="120.60" y1="42.80" x2="120.60" y2="100.00" stroke="#2a2a2a" stroke-width="0.6" />
<polygon points="120.00,39.10 142.50,30.80 187.80,37.20 206.90,66.80 206.90,70.50 202.60,73.00 202.60,67.70 186.00,41.30 143.40,35.80 121.30,42.80" fill="#545454" stroke="#2a2a2a" stroke-width="0.6" />
<polygon points="101.20,46.60 106.50,44.40 106.50,92.50 101.20,92.50" fill="#545454" stroke="#2a2a2a" stroke-width="0.6" />
<polygon points="128.70,59.40 137.90,62.20 137.90,91.80 128.70,97.30" fill="#fff" stroke="none" stroke-width="1" />
<polygon points="147.10,68.30 161.90,75.70 161.90,81.60 147.10,88.60" fill="#fff" stroke="none" stroke-width="1" />
<rect x="161.90" y="75.70" width="7.40" height="5.90" fill="#7a7a7a" stroke="#555" stroke-width="0.4" />
<polygon points="169.30,75.70 180.40,66.80 180.40,110.30 169.30,81.60" fill="#fff" stroke="none" stroke-width="1" />
<polygon points="186.90,56.70 193.40,53.90 201.70,66.80 186.90,81.60" fill="#fff" stroke="none" stroke-width="1" />
<polygon points="182.30,83.50 206.90,67.70 206.90,132.30 181.60,147.10" fill="#545454" stroke="#2a2a2a" stroke-width="0.6" />
<polygon points="186.60,86.50 202.70,75.50 202.70,131.00 186.60,142.20" fill="#9c9c9c" stroke="#2a2a2a" stroke-width="0.5" />
<line x1="64.00" y1="37.10" x2="108.00" y2="37.10" stroke="#555" stroke-width="0.8" />
<line x1="64.00" y1="45.90" x2="101.50" y2="45.90" stroke="#555" stroke-width="0.8" />
<path d="M108.4,35.5 C105.2,36 105.0,45 108.4,46" fill="#f0f0f0" stroke="#666" stroke-width="0.6" />
<rect x="108.20" y="29.80" width="12.40" height="20.60" fill="#f4f4f4" stroke="#666" stroke-width="0.6" />
<line x1="110.27" y1="30.30" x2="110.27" y2="49.90" stroke="#b0b0b0" stroke-width="0.4" />
<line x1="112.33" y1="30.30" x2="112.33" y2="49.90" stroke="#b0b0b0" stroke-width="0.4" />
<line x1="114.40" y1="30.30" x2="114.40" y2="49.90" stroke="#b0b0b0" stroke-width="0.4" />
<line x1="116.47" y1="30.30" x2="116.47" y2="49.90" stroke="#b0b0b0" stroke-width="0.4" />
<line x1="118.53" y1="30.30" x2="118.53" y2="49.90" stroke="#b0b0b0" stroke-width="0.4" />
<polygon points="108.60,50.40 120.00,50.40 118.80,52.50 118.80,59.50 120.00,61.50 108.60,61.50 107.40,59.50 107.40,52.50" fill="#f7f7f7" stroke="#666" stroke-width="0.6" />
<line x1="110.50" y1="52.00" x2="110.50" y2="60.00" stroke="#bbb" stroke-width="0.4" />
<line x1="116.50" y1="52.00" x2="116.50" y2="60.00" stroke="#bbb" stroke-width="0.4" />
<rect x="106.20" y="61.50" width="13.80" height="15.90" fill="#f4f4f4" stroke="#666" stroke-width="0.6" />
<line x1="108.50" y1="62.00" x2="108.50" y2="76.90" stroke="#b0b0b0" stroke-width="0.4" />
<line x1="110.80" y1="62.00" x2="110.80" y2="76.90" stroke="#b0b0b0" stroke-width="0.4" />
<line x1="113.10" y1="62.00" x2="113.10" y2="76.90" stroke="#b0b0b0" stroke-width="0.4" />
<line x1="115.40" y1="62.00" x2="115.40" y2="76.90" stroke="#b0b0b0" stroke-width="0.4" />
<line x1="117.70" y1="62.00" x2="117.70" y2="76.90" stroke="#b0b0b0" stroke-width="0.4" />
<polygon points="107.50,77.40 118.80,77.40 116.00,79.00 110.50,79.00" fill="#ddd" stroke="#666" stroke-width="0.5" />
<rect x="110.80" y="78.80" width="5.00" height="4.80" fill="#111" stroke="none" stroke-width="1" />
<line x1="110.80" y1="81.00" x2="115.80" y2="81.00" stroke="#555" stroke-width="0.5" />
<polygon points="111.60,83.60 115.00,83.60 113.30,90.20" fill="#e3151c" stroke="none" stroke-width="1" />
<line x1="71.60" y1="91.20" x2="102.00" y2="91.20" stroke="#777" stroke-width="0.8" />
<rect x="69.40" y="89.60" width="2.20" height="24.20" fill="#111" stroke="none" stroke-width="1" />
<rect x="69.30" y="89.00" width="2.40" height="1.60" fill="#888" stroke="none" stroke-width="1" />
<polygon points="65.30,114.20 78.60,118.50 78.60,158.80 65.30,152.40" fill="#e2e2e2" stroke="#333" stroke-width="0.7" />
<polygon points="65.30,114.20 131.00,113.80 143.10,118.50 78.60,118.50" fill="#ededed" stroke="#333" stroke-width="0.6" />
<rect x="78.60" y="118.50" width="64.50" height="40.30" fill="#e4e4e4" stroke="#333" stroke-width="0.7" />
<ellipse cx="103.6" cy="113.2" rx="26.4" ry="4.6" fill="#f7f7f7" stroke="#9a9a9a" stroke-width="0.6"/>
<path d="M77.4,113.2 C77.8,99 90,93 103.6,93 C117,93 129.6,99 129.8,113.2 C121,116.5 86,116.5 77.4,113.2 Z" fill="#fff" stroke="#a5a5a5" stroke-width="0.6" />
<path d="M86.5,101.5 C90,99.5 95,99 99.5,99.2" fill="none" stroke="#888" stroke-width="0.7" />
<path d="M80,107.5 C81,104 83,102 85,101" fill="none" stroke="#c8c8c8" stroke-width="0.5" />
<ellipse cx="103.4" cy="118.3" rx="3.2" ry="4.4" fill="#a9a9a9" stroke="#555" stroke-width="0.5"/>
<ellipse cx="132.0" cy="115.0" rx="3.2" ry="4.4" fill="#a9a9a9" stroke="#555" stroke-width="0.5"/>
<line x1="103.40" y1="122.70" x2="103.40" y2="124.50" stroke="#555" stroke-width="0.6" />
<line x1="132.00" y1="119.40" x2="132.00" y2="121.30" stroke="#555" stroke-width="0.6" />
<path d="M98.6,105.4 C98.2,102 98.4,97.6 100.6,94.6 C102.6,92.4 106.5,92.2 110.0,92.0 C112.4,91.8 113.6,90.0 115.2,88.6 C116.8,87.8 118.4,88.6 118.8,90.4 C119.0,92.4 117.6,94.4 115.6,95.6 C113.4,96.8 110.6,97.0 108.4,98.2 C106.2,99.4 104.6,101.8 102.2,103.0 C101.0,103.6 100.2,104.6 99.6,105.6 Z" fill="#b2b2b2" stroke="#555" stroke-width="0.45" />
<circle cx="116.60" cy="88.40" r="1.2" fill="#b2b2b2" stroke="#555" stroke-width="0.4" />
<line x1="113.40" y1="96.40" x2="113.20" y2="98.40" stroke="#444" stroke-width="0.9" />
<line x1="118.80" y1="94.00" x2="146.30" y2="111.40" stroke="#2a2a2a" stroke-width="0.7" />
<line x1="118.20" y1="95.20" x2="145.60" y2="112.60" stroke="#2a2a2a" stroke-width="0.7" />
<line x1="118.50" y1="94.60" x2="146.00" y2="112.00" stroke="#555" stroke-width="0.6" />
<circle cx="118.60" cy="94.20" r="1.5" fill="#2aa6e2" stroke="none" stroke-width="1" />
<line x1="49.40" y1="71.60" x2="100.80" y2="94.70" stroke="#2a2a2a" stroke-width="0.7" />
<line x1="60.90" y1="103.10" x2="80.90" y2="108.70" stroke="#2a2a2a" stroke-width="0.7" />
<line x1="147.40" y1="31.30" x2="159.90" y2="23.10" stroke="#2a2a2a" stroke-width="0.7" />
<line x1="144.00" y1="111.60" x2="158.00" y2="136.00" stroke="#2a2a2a" stroke-width="0.7" />
<line x1="103.40" y1="124.00" x2="151.50" y2="159.60" stroke="#2a2a2a" stroke-width="0.7" />
<line x1="132.00" y1="121.30" x2="124.50" y2="139.80" stroke="#2a2a2a" stroke-width="0.7" />
<text x="55.40" y="20.50" font-size="9.3" text-anchor="start" fill="#231f20" font-weight="normal" stroke="#231f20" stroke-width="0.218" >Two-photon</text>
<text x="55.00" y="31.30" font-size="9.3" text-anchor="start" fill="#231f20" font-weight="normal" stroke="#231f20" stroke-width="0.218" >microscope</text>
<text x="161.60" y="20.30" font-size="9.3" text-anchor="start" fill="#231f20" font-weight="normal" stroke="#231f20" stroke-width="0.218" >270º projection</text>
<text x="161.60" y="31.00" font-size="9.3" text-anchor="start" fill="#231f20" font-weight="normal" stroke="#231f20" stroke-width="0.218" >screen</text>
<text x="17.60" y="68.00" font-size="9.3" text-anchor="start" fill="#231f20" font-weight="normal" stroke="#231f20" stroke-width="0.218" >Head-fixed</text>
<text x="17.60" y="79.20" font-size="9.3" text-anchor="start" fill="#231f20" font-weight="normal" stroke="#231f20" stroke-width="0.218" >mouse</text>
<text x="-0.30" y="99.20" font-size="9.4" text-anchor="start" fill="#231f20" font-weight="normal" stroke="#231f20" stroke-width="0.220" >Air-supported</text>
<text x="-0.30" y="111.00" font-size="9.4" text-anchor="start" fill="#231f20" font-weight="normal" stroke="#231f20" stroke-width="0.220" >styrofoam ball</text>
<text x="147.00" y="142.60" font-size="9.4" text-anchor="start" fill="#231f20" font-weight="normal" stroke="#231f20" stroke-width="0.220" >Reward</text>
<text x="147.00" y="153.40" font-size="9.4" text-anchor="start" fill="#231f20" font-weight="normal" stroke="#231f20" stroke-width="0.220" >port</text>
<text x="152.60" y="166.40" font-size="9.4" text-anchor="start" fill="#231f20" font-weight="normal" stroke="#231f20" stroke-width="0.220" >Orthogonal</text>
<text x="152.60" y="176.60" font-size="9.4" text-anchor="start" fill="#231f20" font-weight="normal" stroke="#231f20" stroke-width="0.220" >motion sensors</text>
</svg></body></html>
